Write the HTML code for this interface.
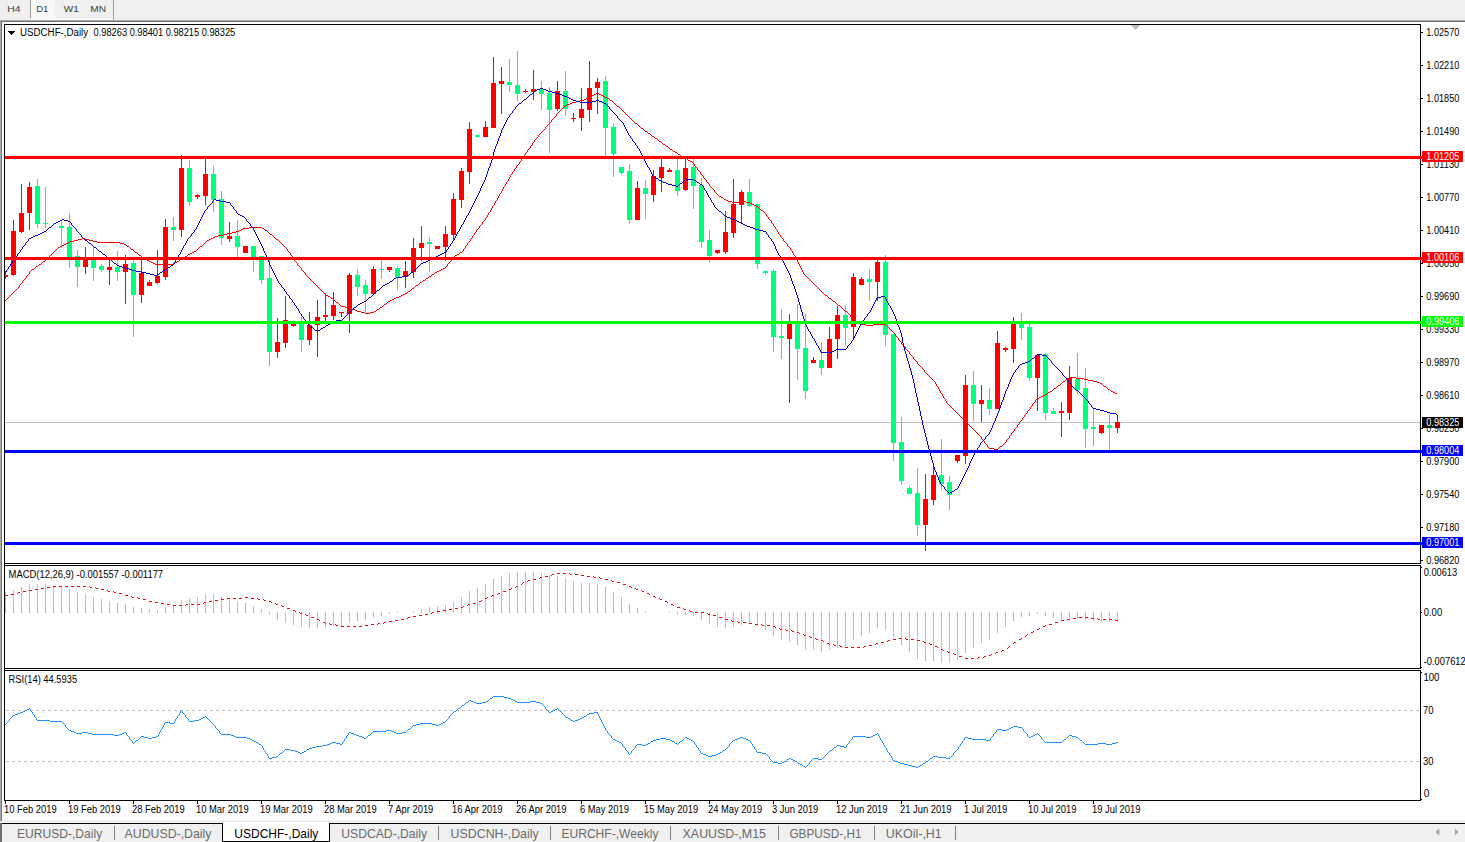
<!DOCTYPE html>
<html><head><meta charset="utf-8"><title>USDCHF Daily</title>
<style>
html,body{margin:0;padding:0;background:#fff;}
body{width:1465px;height:842px;overflow:hidden;font-family:"Liberation Sans",sans-serif;}
svg{display:block;font-family:"Liberation Sans",sans-serif;}
</style></head><body>
<svg width="1465" height="842" viewBox="0 0 1465 842" shape-rendering="crispEdges">
<rect x="0" y="0" width="1465" height="842" fill="#ffffff"/>
<rect x="0" y="0" width="1465" height="20" fill="#f0f0f0"/>
<rect x="0" y="20" width="1465" height="1" fill="#a8a8a8"/>
<rect x="0" y="21" width="1465" height="1" fill="#767676"/>
<rect x="31" y="18" width="82" height="2" fill="#fafafa"/>
<rect x="31" y="0" width="24" height="18" fill="#f8f8f8"/>
<rect x="30" y="0" width="1" height="18" fill="#a0a0a0"/>
<rect x="113" y="0" width="1" height="20" fill="#a0a0a0"/>
<text x="7.3" y="12" font-size="9.6" fill="#3c3c3c" textLength="13.2" lengthAdjust="spacingAndGlyphs">H4</text>
<text x="36.2" y="12" font-size="9.6" fill="#3c3c3c" textLength="12.2" lengthAdjust="spacingAndGlyphs">D1</text>
<text x="63.8" y="12" font-size="9.6" fill="#3c3c3c" textLength="15" lengthAdjust="spacingAndGlyphs">W1</text>
<text x="90.2" y="12" font-size="9.6" fill="#3c3c3c" textLength="15.8" lengthAdjust="spacingAndGlyphs">MN</text>
<rect x="0" y="21" width="1" height="801" fill="#a8a8a8"/>
<rect x="1" y="22" width="1" height="800" fill="#767676"/>
<rect x="4" y="24" width="1417" height="1" fill="#000"/>
<rect x="4" y="24" width="1" height="777" fill="#000"/>
<rect x="1420" y="24" width="1" height="777" fill="#000"/>
<rect x="4" y="563" width="1417" height="1" fill="#000"/>
<rect x="4" y="565" width="1417" height="1" fill="#000"/>
<rect x="4" y="668" width="1417" height="1" fill="#000"/>
<rect x="4" y="670" width="1417" height="1" fill="#000"/>
<rect x="4" y="800" width="1417" height="1" fill="#000"/>
<rect x="1131" y="25" width="9" height="1" fill="#c0c0c0"/>
<rect x="1132" y="26" width="7" height="1" fill="#c0c0c0"/>
<rect x="1133" y="27" width="5" height="1" fill="#c0c0c0"/>
<rect x="1134" y="28" width="3" height="1" fill="#c0c0c0"/>
<rect x="1135" y="29" width="1" height="1" fill="#c0c0c0"/>
<rect x="8" y="31" width="7" height="1" fill="#000"/>
<rect x="9" y="32" width="5" height="1" fill="#000"/>
<rect x="10" y="33" width="3" height="1" fill="#000"/>
<rect x="11" y="34" width="1" height="1" fill="#000"/>
<rect x="5" y="422" width="1415" height="1" fill="#c0c0c0"/>
<rect x="5" y="271" width="1" height="8" fill="#ff0000"/>
<rect x="5" y="275" width="3" height="2" fill="#ff0000"/>
<rect x="13" y="220" width="1" height="56" fill="#ff0000"/>
<rect x="11" y="231" width="5" height="44" fill="#ff0000"/>
<rect x="21" y="184" width="1" height="49" fill="#ff0000"/>
<rect x="19" y="213" width="5" height="19" fill="#ff0000"/>
<rect x="29" y="182" width="1" height="48" fill="#ff0000"/>
<rect x="27" y="187" width="5" height="26" fill="#ff0000"/>
<rect x="37" y="179" width="1" height="49" fill="#00ff7f"/>
<rect x="35" y="186" width="5" height="38" fill="#00ff7f"/>
<rect x="45" y="187" width="1" height="41" fill="#00ff7f"/>
<rect x="43" y="223" width="5" height="1" fill="#00ff7f"/>
<rect x="61" y="222" width="1" height="26" fill="#00ff7f"/>
<rect x="59" y="226" width="5" height="2" fill="#00ff7f"/>
<rect x="69" y="213" width="1" height="55" fill="#00ff7f"/>
<rect x="67" y="227" width="5" height="32" fill="#00ff7f"/>
<rect x="77" y="250" width="1" height="37" fill="#00ff7f"/>
<rect x="75" y="256" width="5" height="11" fill="#00ff7f"/>
<rect x="85" y="247" width="1" height="27" fill="#ff0000"/>
<rect x="83" y="257" width="5" height="10" fill="#ff0000"/>
<rect x="93" y="247" width="1" height="34" fill="#00ff7f"/>
<rect x="91" y="257" width="5" height="11" fill="#00ff7f"/>
<rect x="101" y="264" width="1" height="8" fill="#00ff7f"/>
<rect x="99" y="266" width="5" height="4" fill="#00ff7f"/>
<rect x="109" y="260" width="1" height="25" fill="#ff0000"/>
<rect x="107" y="267" width="5" height="3" fill="#ff0000"/>
<rect x="117" y="251" width="1" height="30" fill="#00ff7f"/>
<rect x="115" y="267" width="5" height="5" fill="#00ff7f"/>
<rect x="125" y="255" width="1" height="49" fill="#ff0000"/>
<rect x="123" y="264" width="5" height="8" fill="#ff0000"/>
<rect x="133" y="260" width="1" height="77" fill="#00ff7f"/>
<rect x="131" y="263" width="5" height="32" fill="#00ff7f"/>
<rect x="141" y="256" width="1" height="47" fill="#ff0000"/>
<rect x="139" y="273" width="5" height="22" fill="#ff0000"/>
<rect x="149" y="280" width="1" height="6" fill="#ff0000"/>
<rect x="147" y="282" width="5" height="4" fill="#ff0000"/>
<rect x="157" y="250" width="1" height="34" fill="#ff0000"/>
<rect x="155" y="276" width="5" height="7" fill="#ff0000"/>
<rect x="165" y="219" width="1" height="61" fill="#ff0000"/>
<rect x="163" y="227" width="5" height="50" fill="#ff0000"/>
<rect x="173" y="217" width="1" height="24" fill="#00ff7f"/>
<rect x="171" y="227" width="5" height="3" fill="#00ff7f"/>
<rect x="181" y="155" width="1" height="82" fill="#ff0000"/>
<rect x="179" y="168" width="5" height="62" fill="#ff0000"/>
<rect x="189" y="160" width="1" height="46" fill="#00ff7f"/>
<rect x="187" y="168" width="5" height="34" fill="#00ff7f"/>
<rect x="197" y="194" width="1" height="5" fill="#ff0000"/>
<rect x="195" y="195" width="5" height="2" fill="#ff0000"/>
<rect x="205" y="156" width="1" height="49" fill="#ff0000"/>
<rect x="203" y="174" width="5" height="22" fill="#ff0000"/>
<rect x="213" y="166" width="1" height="46" fill="#00ff7f"/>
<rect x="211" y="174" width="5" height="26" fill="#00ff7f"/>
<rect x="221" y="191" width="1" height="54" fill="#00ff7f"/>
<rect x="219" y="199" width="5" height="39" fill="#00ff7f"/>
<rect x="229" y="222" width="1" height="20" fill="#ff0000"/>
<rect x="227" y="236" width="5" height="3" fill="#ff0000"/>
<rect x="237" y="220" width="1" height="38" fill="#00ff7f"/>
<rect x="235" y="236" width="5" height="11" fill="#00ff7f"/>
<rect x="245" y="246" width="1" height="7" fill="#ff0000"/>
<rect x="243" y="246" width="5" height="7" fill="#ff0000"/>
<rect x="253" y="246" width="1" height="26" fill="#00ff7f"/>
<rect x="251" y="246" width="5" height="12" fill="#00ff7f"/>
<rect x="261" y="256" width="1" height="28" fill="#00ff7f"/>
<rect x="259" y="256" width="5" height="24" fill="#00ff7f"/>
<rect x="269" y="259" width="1" height="107" fill="#00ff7f"/>
<rect x="267" y="278" width="5" height="74" fill="#00ff7f"/>
<rect x="277" y="318" width="1" height="40" fill="#ff0000"/>
<rect x="275" y="342" width="5" height="10" fill="#ff0000"/>
<rect x="285" y="296" width="1" height="52" fill="#ff0000"/>
<rect x="283" y="320" width="5" height="23" fill="#ff0000"/>
<rect x="293" y="324" width="1" height="3" fill="#ff0000"/>
<rect x="291" y="324" width="5" height="2" fill="#ff0000"/>
<rect x="301" y="317" width="1" height="35" fill="#00ff7f"/>
<rect x="299" y="321" width="5" height="19" fill="#00ff7f"/>
<rect x="309" y="312" width="1" height="33" fill="#ff0000"/>
<rect x="307" y="325" width="5" height="15" fill="#ff0000"/>
<rect x="317" y="300" width="1" height="57" fill="#ff0000"/>
<rect x="315" y="317" width="5" height="8" fill="#ff0000"/>
<rect x="325" y="293" width="1" height="29" fill="#ff0000"/>
<rect x="323" y="315" width="5" height="2" fill="#ff0000"/>
<rect x="333" y="292" width="1" height="28" fill="#ff0000"/>
<rect x="331" y="305" width="5" height="11" fill="#ff0000"/>
<rect x="341" y="312" width="1" height="5" fill="#ff0000"/>
<rect x="339" y="312" width="5" height="1" fill="#ff0000"/>
<rect x="349" y="273" width="1" height="60" fill="#ff0000"/>
<rect x="347" y="275" width="5" height="39" fill="#ff0000"/>
<rect x="357" y="269" width="1" height="27" fill="#00ff7f"/>
<rect x="355" y="275" width="5" height="12" fill="#00ff7f"/>
<rect x="365" y="280" width="1" height="32" fill="#00ff7f"/>
<rect x="363" y="285" width="5" height="9" fill="#00ff7f"/>
<rect x="373" y="266" width="1" height="28" fill="#ff0000"/>
<rect x="371" y="269" width="5" height="25" fill="#ff0000"/>
<rect x="381" y="260" width="1" height="19" fill="#00ff7f"/>
<rect x="379" y="269" width="5" height="1" fill="#00ff7f"/>
<rect x="389" y="267" width="1" height="5" fill="#ff0000"/>
<rect x="387" y="267" width="5" height="3" fill="#ff0000"/>
<rect x="397" y="266" width="1" height="24" fill="#00ff7f"/>
<rect x="395" y="268" width="5" height="9" fill="#00ff7f"/>
<rect x="405" y="261" width="1" height="27" fill="#ff0000"/>
<rect x="403" y="271" width="5" height="6" fill="#ff0000"/>
<rect x="413" y="238" width="1" height="40" fill="#ff0000"/>
<rect x="411" y="248" width="5" height="24" fill="#ff0000"/>
<rect x="421" y="226" width="1" height="35" fill="#ff0000"/>
<rect x="419" y="243" width="5" height="5" fill="#ff0000"/>
<rect x="429" y="237" width="1" height="35" fill="#00ff7f"/>
<rect x="427" y="242" width="5" height="2" fill="#00ff7f"/>
<rect x="437" y="246" width="1" height="3" fill="#ff0000"/>
<rect x="435" y="246" width="5" height="3" fill="#ff0000"/>
<rect x="445" y="226" width="1" height="35" fill="#ff0000"/>
<rect x="443" y="234" width="5" height="13" fill="#ff0000"/>
<rect x="453" y="193" width="1" height="47" fill="#ff0000"/>
<rect x="451" y="199" width="5" height="36" fill="#ff0000"/>
<rect x="461" y="168" width="1" height="40" fill="#ff0000"/>
<rect x="459" y="171" width="5" height="29" fill="#ff0000"/>
<rect x="469" y="122" width="1" height="62" fill="#ff0000"/>
<rect x="467" y="129" width="5" height="43" fill="#ff0000"/>
<rect x="477" y="134" width="1" height="4" fill="#00ff7f"/>
<rect x="475" y="135" width="5" height="2" fill="#00ff7f"/>
<rect x="485" y="121" width="1" height="16" fill="#ff0000"/>
<rect x="483" y="127" width="5" height="10" fill="#ff0000"/>
<rect x="493" y="57" width="1" height="71" fill="#ff0000"/>
<rect x="491" y="83" width="5" height="45" fill="#ff0000"/>
<rect x="501" y="67" width="1" height="47" fill="#ff0000"/>
<rect x="499" y="81" width="5" height="3" fill="#ff0000"/>
<rect x="509" y="59" width="1" height="33" fill="#00ff7f"/>
<rect x="507" y="82" width="5" height="3" fill="#00ff7f"/>
<rect x="517" y="51" width="1" height="50" fill="#00ff7f"/>
<rect x="515" y="85" width="5" height="9" fill="#00ff7f"/>
<rect x="525" y="89" width="1" height="4" fill="#ff0000"/>
<rect x="523" y="91" width="5" height="1" fill="#ff0000"/>
<rect x="533" y="70" width="1" height="30" fill="#ff0000"/>
<rect x="531" y="89" width="5" height="3" fill="#ff0000"/>
<rect x="541" y="81" width="1" height="29" fill="#00ff7f"/>
<rect x="539" y="89" width="5" height="5" fill="#00ff7f"/>
<rect x="549" y="87" width="1" height="66" fill="#00ff7f"/>
<rect x="547" y="93" width="5" height="17" fill="#00ff7f"/>
<rect x="557" y="81" width="1" height="30" fill="#ff0000"/>
<rect x="555" y="91" width="5" height="18" fill="#ff0000"/>
<rect x="565" y="71" width="1" height="45" fill="#00ff7f"/>
<rect x="563" y="91" width="5" height="18" fill="#00ff7f"/>
<rect x="573" y="113" width="1" height="9" fill="#ff0000"/>
<rect x="571" y="118" width="5" height="1" fill="#ff0000"/>
<rect x="581" y="88" width="1" height="43" fill="#ff0000"/>
<rect x="579" y="109" width="5" height="9" fill="#ff0000"/>
<rect x="589" y="61" width="1" height="61" fill="#ff0000"/>
<rect x="587" y="88" width="5" height="22" fill="#ff0000"/>
<rect x="597" y="78" width="1" height="36" fill="#ff0000"/>
<rect x="595" y="82" width="5" height="6" fill="#ff0000"/>
<rect x="605" y="76" width="1" height="81" fill="#00ff7f"/>
<rect x="603" y="81" width="5" height="47" fill="#00ff7f"/>
<rect x="613" y="123" width="1" height="54" fill="#00ff7f"/>
<rect x="611" y="127" width="5" height="27" fill="#00ff7f"/>
<rect x="621" y="167" width="1" height="8" fill="#00ff7f"/>
<rect x="619" y="167" width="5" height="6" fill="#00ff7f"/>
<rect x="629" y="164" width="1" height="60" fill="#00ff7f"/>
<rect x="627" y="171" width="5" height="49" fill="#00ff7f"/>
<rect x="637" y="181" width="1" height="39" fill="#ff0000"/>
<rect x="635" y="188" width="5" height="32" fill="#ff0000"/>
<rect x="645" y="180" width="1" height="39" fill="#00ff7f"/>
<rect x="643" y="188" width="5" height="6" fill="#00ff7f"/>
<rect x="653" y="170" width="1" height="32" fill="#ff0000"/>
<rect x="651" y="176" width="5" height="19" fill="#ff0000"/>
<rect x="661" y="159" width="1" height="33" fill="#ff0000"/>
<rect x="659" y="167" width="5" height="11" fill="#ff0000"/>
<rect x="669" y="168" width="1" height="4" fill="#ff0000"/>
<rect x="667" y="170" width="5" height="2" fill="#ff0000"/>
<rect x="677" y="159" width="1" height="37" fill="#00ff7f"/>
<rect x="675" y="170" width="5" height="21" fill="#00ff7f"/>
<rect x="685" y="159" width="1" height="32" fill="#ff0000"/>
<rect x="683" y="168" width="5" height="22" fill="#ff0000"/>
<rect x="693" y="159" width="1" height="50" fill="#00ff7f"/>
<rect x="691" y="167" width="5" height="19" fill="#00ff7f"/>
<rect x="701" y="178" width="1" height="70" fill="#00ff7f"/>
<rect x="699" y="185" width="5" height="57" fill="#00ff7f"/>
<rect x="709" y="230" width="1" height="32" fill="#00ff7f"/>
<rect x="707" y="240" width="5" height="16" fill="#00ff7f"/>
<rect x="717" y="250" width="1" height="4" fill="#ff0000"/>
<rect x="715" y="250" width="5" height="3" fill="#ff0000"/>
<rect x="725" y="211" width="1" height="43" fill="#ff0000"/>
<rect x="723" y="232" width="5" height="20" fill="#ff0000"/>
<rect x="733" y="179" width="1" height="59" fill="#ff0000"/>
<rect x="731" y="204" width="5" height="29" fill="#ff0000"/>
<rect x="741" y="190" width="1" height="34" fill="#ff0000"/>
<rect x="739" y="192" width="5" height="13" fill="#ff0000"/>
<rect x="749" y="179" width="1" height="28" fill="#00ff7f"/>
<rect x="747" y="192" width="5" height="14" fill="#00ff7f"/>
<rect x="757" y="204" width="1" height="65" fill="#00ff7f"/>
<rect x="755" y="204" width="5" height="60" fill="#00ff7f"/>
<rect x="765" y="270" width="1" height="5" fill="#00ff7f"/>
<rect x="763" y="271" width="5" height="2" fill="#00ff7f"/>
<rect x="773" y="269" width="1" height="83" fill="#00ff7f"/>
<rect x="771" y="271" width="5" height="66" fill="#00ff7f"/>
<rect x="781" y="309" width="1" height="50" fill="#00ff7f"/>
<rect x="779" y="336" width="5" height="2" fill="#00ff7f"/>
<rect x="789" y="314" width="1" height="89" fill="#ff0000"/>
<rect x="787" y="322" width="5" height="17" fill="#ff0000"/>
<rect x="797" y="304" width="1" height="76" fill="#00ff7f"/>
<rect x="795" y="321" width="5" height="28" fill="#00ff7f"/>
<rect x="805" y="314" width="1" height="85" fill="#00ff7f"/>
<rect x="803" y="348" width="5" height="43" fill="#00ff7f"/>
<rect x="813" y="357" width="1" height="6" fill="#ff0000"/>
<rect x="811" y="360" width="5" height="3" fill="#ff0000"/>
<rect x="821" y="342" width="1" height="33" fill="#00ff7f"/>
<rect x="819" y="360" width="5" height="8" fill="#00ff7f"/>
<rect x="829" y="327" width="1" height="41" fill="#ff0000"/>
<rect x="827" y="339" width="5" height="29" fill="#ff0000"/>
<rect x="837" y="306" width="1" height="53" fill="#ff0000"/>
<rect x="835" y="315" width="5" height="24" fill="#ff0000"/>
<rect x="845" y="305" width="1" height="40" fill="#00ff7f"/>
<rect x="843" y="315" width="5" height="13" fill="#00ff7f"/>
<rect x="853" y="273" width="1" height="65" fill="#ff0000"/>
<rect x="851" y="277" width="5" height="50" fill="#ff0000"/>
<rect x="861" y="277" width="1" height="8" fill="#ff0000"/>
<rect x="859" y="279" width="5" height="6" fill="#ff0000"/>
<rect x="869" y="269" width="1" height="32" fill="#00ff7f"/>
<rect x="867" y="279" width="5" height="3" fill="#00ff7f"/>
<rect x="877" y="260" width="1" height="41" fill="#ff0000"/>
<rect x="875" y="262" width="5" height="20" fill="#ff0000"/>
<rect x="885" y="255" width="1" height="91" fill="#00ff7f"/>
<rect x="883" y="262" width="5" height="73" fill="#00ff7f"/>
<rect x="893" y="334" width="1" height="127" fill="#00ff7f"/>
<rect x="891" y="334" width="5" height="109" fill="#00ff7f"/>
<rect x="901" y="417" width="1" height="68" fill="#00ff7f"/>
<rect x="899" y="442" width="5" height="39" fill="#00ff7f"/>
<rect x="909" y="486" width="1" height="8" fill="#00ff7f"/>
<rect x="907" y="488" width="5" height="6" fill="#00ff7f"/>
<rect x="917" y="468" width="1" height="68" fill="#00ff7f"/>
<rect x="915" y="493" width="5" height="32" fill="#00ff7f"/>
<rect x="925" y="474" width="1" height="77" fill="#ff0000"/>
<rect x="923" y="499" width="5" height="26" fill="#ff0000"/>
<rect x="933" y="466" width="1" height="39" fill="#ff0000"/>
<rect x="931" y="475" width="5" height="25" fill="#ff0000"/>
<rect x="941" y="439" width="1" height="51" fill="#00ff7f"/>
<rect x="939" y="475" width="5" height="9" fill="#00ff7f"/>
<rect x="949" y="476" width="1" height="34" fill="#00ff7f"/>
<rect x="947" y="482" width="5" height="13" fill="#00ff7f"/>
<rect x="957" y="455" width="1" height="8" fill="#ff0000"/>
<rect x="955" y="455" width="5" height="6" fill="#ff0000"/>
<rect x="965" y="375" width="1" height="89" fill="#ff0000"/>
<rect x="963" y="385" width="5" height="71" fill="#ff0000"/>
<rect x="973" y="371" width="1" height="50" fill="#00ff7f"/>
<rect x="971" y="385" width="5" height="19" fill="#00ff7f"/>
<rect x="981" y="385" width="1" height="37" fill="#ff0000"/>
<rect x="979" y="400" width="5" height="4" fill="#ff0000"/>
<rect x="989" y="388" width="1" height="27" fill="#00ff7f"/>
<rect x="987" y="400" width="5" height="9" fill="#00ff7f"/>
<rect x="997" y="331" width="1" height="78" fill="#ff0000"/>
<rect x="995" y="343" width="5" height="66" fill="#ff0000"/>
<rect x="1005" y="347" width="1" height="5" fill="#ff0000"/>
<rect x="1003" y="348" width="5" height="2" fill="#ff0000"/>
<rect x="1013" y="317" width="1" height="46" fill="#ff0000"/>
<rect x="1011" y="324" width="5" height="25" fill="#ff0000"/>
<rect x="1021" y="313" width="1" height="27" fill="#00ff7f"/>
<rect x="1019" y="324" width="5" height="4" fill="#00ff7f"/>
<rect x="1029" y="324" width="1" height="57" fill="#00ff7f"/>
<rect x="1027" y="327" width="5" height="51" fill="#00ff7f"/>
<rect x="1037" y="354" width="1" height="57" fill="#ff0000"/>
<rect x="1035" y="355" width="5" height="23" fill="#ff0000"/>
<rect x="1045" y="353" width="1" height="67" fill="#00ff7f"/>
<rect x="1043" y="354" width="5" height="59" fill="#00ff7f"/>
<rect x="1053" y="408" width="1" height="6" fill="#00ff7f"/>
<rect x="1051" y="411" width="5" height="3" fill="#00ff7f"/>
<rect x="1061" y="402" width="1" height="35" fill="#ff0000"/>
<rect x="1059" y="411" width="5" height="2" fill="#ff0000"/>
<rect x="1069" y="366" width="1" height="54" fill="#ff0000"/>
<rect x="1067" y="378" width="5" height="35" fill="#ff0000"/>
<rect x="1077" y="353" width="1" height="41" fill="#00ff7f"/>
<rect x="1075" y="379" width="5" height="11" fill="#00ff7f"/>
<rect x="1085" y="368" width="1" height="80" fill="#00ff7f"/>
<rect x="1083" y="388" width="5" height="41" fill="#00ff7f"/>
<rect x="1093" y="408" width="1" height="38" fill="#00ff7f"/>
<rect x="1091" y="427" width="5" height="2" fill="#00ff7f"/>
<rect x="1101" y="425" width="1" height="9" fill="#ff0000"/>
<rect x="1099" y="425" width="5" height="8" fill="#ff0000"/>
<rect x="1109" y="415" width="1" height="35" fill="#00ff7f"/>
<rect x="1107" y="425" width="5" height="3" fill="#00ff7f"/>
<rect x="1117" y="415" width="1" height="18" fill="#ff0000"/>
<rect x="1115" y="422" width="5" height="6" fill="#ff0000"/>
<path d="M5.5 300v1M6.5 299v1M7.5 298v1M8.5 297v1M9.5 296v1M10.5 295v1M11.5 294v1M12.5 293v1M13.5 292v1M14.5 291v1M15.5 290v1M16.5 289v1M17.5 288v1M18.5 287v1M19.5 285v2M20.5 284v1M21.5 283v1M22.5 281v2M23.5 280v1M24.5 279v1M25.5 278v1M26.5 276v2M27.5 275v1M28.5 274v1M29.5 272v2M30.5 271v1M31.5 270v1M32.5 269v1M33.5 269v1M34.5 268v1M35.5 267v1M36.5 266v1M37.5 266v1M38.5 265v1M39.5 264v1M40.5 264v1M41.5 263v1M42.5 262v1M43.5 261v1M44.5 261v1M45.5 260v1M46.5 259v1M47.5 258v1M48.5 257v1M49.5 256v1M50.5 255v1M51.5 254v1M52.5 253v1M53.5 252v1M54.5 251v1M55.5 250v1M56.5 249v1M57.5 248v1M58.5 247v1M59.5 247v1M60.5 246v1M61.5 246v1M62.5 245v1M63.5 245v1M64.5 244v1M65.5 244v1M66.5 243v1M67.5 243v1M68.5 242v1M69.5 242v1M70.5 241v1M71.5 241v1M72.5 241v1M73.5 241v1M74.5 240v1M75.5 240v1M76.5 240v1M77.5 240v1M78.5 239v1M79.5 239v1M80.5 239v1M81.5 239v1M82.5 238v1M83.5 238v1M84.5 238v1M85.5 239v1M86.5 239v1M87.5 239v1M88.5 239v1M89.5 240v1M90.5 240v1M91.5 240v1M92.5 240v1M93.5 241v1M94.5 241v1M95.5 241v1M96.5 241v1M97.5 242v1M98.5 242v1M99.5 242v1M100.5 242v1M101.5 242v1M102.5 242v1M103.5 242v1M104.5 242v1M105.5 242v1M106.5 242v1M107.5 242v1M108.5 242v1M109.5 242v1M110.5 242v1M111.5 242v1M112.5 242v1M113.5 242v1M114.5 242v1M115.5 242v1M116.5 242v1M117.5 242v1M118.5 242v1M119.5 242v1M120.5 243v1M121.5 243v1M122.5 243v1M123.5 243v1M124.5 244v1M125.5 244v1M126.5 245v1M127.5 246v1M128.5 246v1M129.5 247v1M130.5 248v1M131.5 249v1M132.5 249v1M133.5 250v1M134.5 251v1M135.5 252v1M136.5 252v1M137.5 253v1M138.5 254v1M139.5 255v1M140.5 255v1M141.5 256v1M142.5 257v1M143.5 258v1M144.5 258v1M145.5 259v1M146.5 259v1M147.5 260v1M148.5 260v1M149.5 261v1M150.5 261v1M151.5 262v1M152.5 262v1M153.5 263v1M154.5 263v1M155.5 264v1M156.5 264v1M157.5 264v1M158.5 264v1M159.5 264v1M160.5 264v1M161.5 264v1M162.5 264v1M163.5 264v1M164.5 264v1M165.5 264v1M166.5 264v1M167.5 264v1M168.5 264v1M169.5 264v1M170.5 264v1M171.5 264v1M172.5 264v1M173.5 263v1M174.5 263v1M175.5 262v1M176.5 262v1M177.5 261v1M178.5 261v1M179.5 260v1M180.5 259v1M181.5 259v1M182.5 258v1M183.5 258v1M184.5 257v1M185.5 256v1M186.5 256v1M187.5 255v1M188.5 254v1M189.5 254v1M190.5 253v1M191.5 253v1M192.5 252v1M193.5 252v1M194.5 251v1M195.5 251v1M196.5 250v1M197.5 249v1M198.5 248v1M199.5 247v1M200.5 246v1M201.5 246v1M202.5 245v1M203.5 244v1M204.5 243v1M205.5 242v1M206.5 241v1M207.5 240v1M208.5 240v1M209.5 239v1M210.5 239v1M211.5 238v1M212.5 238v1M213.5 237v1M214.5 237v1M215.5 236v1M216.5 236v1M217.5 236v1M218.5 235v1M219.5 235v1M220.5 235v1M221.5 235v1M222.5 235v1M223.5 234v1M224.5 234v1M225.5 234v1M226.5 234v1M227.5 233v1M228.5 233v1M229.5 233v1M230.5 233v1M231.5 233v1M232.5 232v1M233.5 232v1M234.5 232v1M235.5 232v1M236.5 231v1M237.5 231v1M238.5 231v1M239.5 230v1M240.5 230v1M241.5 229v1M242.5 229v1M243.5 228v1M244.5 228v1M245.5 228v1M246.5 228v1M247.5 228v1M248.5 228v1M249.5 227v1M250.5 227v1M251.5 227v1M252.5 227v1M253.5 227v1M254.5 227v1M255.5 227v1M256.5 227v1M257.5 227v1M258.5 227v1M259.5 227v1M260.5 227v1M261.5 227v1M262.5 228v1M263.5 228v1M264.5 229v1M265.5 230v1M266.5 230v1M267.5 231v1M268.5 232v1M269.5 233v1M270.5 234v1M271.5 234v1M272.5 235v1M273.5 236v1M274.5 237v1M275.5 238v1M276.5 239v1M277.5 239v1M278.5 240v1M279.5 241v1M280.5 242v1M281.5 243v1M282.5 244v1M283.5 245v1M284.5 246v1M285.5 247v1M286.5 248v1M287.5 249v2M288.5 251v1M289.5 252v1M290.5 253v2M291.5 255v1M292.5 256v1M293.5 257v2M294.5 259v2M295.5 261v1M296.5 262v1M297.5 263v2M298.5 265v1M299.5 266v1M300.5 267v1M301.5 268v2M302.5 270v1M303.5 271v1M304.5 272v1M305.5 273v2M306.5 275v1M307.5 276v1M308.5 277v1M309.5 278v1M310.5 279v1M311.5 280v1M312.5 281v1M313.5 282v1M314.5 283v1M315.5 284v1M316.5 285v1M317.5 286v1M318.5 287v1M319.5 288v1M320.5 289v1M321.5 290v1M322.5 291v1M323.5 292v1M324.5 293v1M325.5 294v1M326.5 295v1M327.5 295v1M328.5 296v1M329.5 296v1M330.5 297v1M331.5 298v1M332.5 298v1M333.5 299v1M334.5 300v1M335.5 301v1M336.5 302v1M337.5 302v1M338.5 303v1M339.5 304v1M340.5 305v1M341.5 306v1M342.5 306v1M343.5 306v1M344.5 306v1M345.5 307v1M346.5 307v1M347.5 307v1M348.5 307v1M349.5 307v1M350.5 308v1M351.5 308v1M352.5 309v1M353.5 309v1M354.5 309v1M355.5 310v1M356.5 310v1M357.5 311v1M358.5 311v1M359.5 311v1M360.5 311v1M361.5 312v1M362.5 312v1M363.5 312v1M364.5 312v1M365.5 313v1M366.5 313v1M367.5 313v1M368.5 313v1M369.5 313v1M370.5 312v1M371.5 312v1M372.5 312v1M373.5 312v1M374.5 311v1M375.5 311v1M376.5 310v1M377.5 309v1M378.5 309v1M379.5 308v1M380.5 307v1M381.5 307v1M382.5 306v1M383.5 305v1M384.5 304v1M385.5 304v1M386.5 303v1M387.5 302v1M388.5 301v1M389.5 301v1M390.5 300v1M391.5 300v1M392.5 299v1M393.5 299v1M394.5 298v1M395.5 298v1M396.5 297v1M397.5 297v1M398.5 297v1M399.5 296v1M400.5 296v1M401.5 295v1M402.5 295v1M403.5 294v1M404.5 294v1M405.5 293v1M406.5 293v1M407.5 292v1M408.5 291v1M409.5 291v1M410.5 290v1M411.5 289v1M412.5 288v1M413.5 288v1M414.5 287v1M415.5 286v1M416.5 285v1M417.5 285v1M418.5 284v1M419.5 283v1M420.5 282v1M421.5 282v1M422.5 281v1M423.5 280v1M424.5 280v1M425.5 279v1M426.5 278v1M427.5 278v1M428.5 277v1M429.5 276v1M430.5 276v1M431.5 275v1M432.5 274v1M433.5 274v1M434.5 273v1M435.5 272v1M436.5 272v1M437.5 271v1M438.5 271v1M439.5 270v1M440.5 270v1M441.5 269v1M442.5 269v1M443.5 268v1M444.5 268v1M445.5 267v1M446.5 266v1M447.5 264v2M448.5 263v1M449.5 262v1M450.5 261v1M451.5 260v1M452.5 258v2M453.5 257v1M454.5 256v1M455.5 255v1M456.5 255v1M457.5 254v1M458.5 254v1M459.5 253v1M460.5 252v1M461.5 252v1M462.5 251v1M463.5 249v2M464.5 248v1M465.5 246v2M466.5 245v1M467.5 243v2M468.5 242v1M469.5 241v1M470.5 239v2M471.5 238v1M472.5 236v2M473.5 235v1M474.5 233v2M475.5 232v1M476.5 230v2M477.5 229v1M478.5 228v1M479.5 226v2M480.5 225v1M481.5 224v1M482.5 222v2M483.5 221v1M484.5 220v1M485.5 218v2M486.5 217v1M487.5 215v2M488.5 213v2M489.5 212v1M490.5 210v2M491.5 208v2M492.5 206v2M493.5 205v1M494.5 203v2M495.5 201v2M496.5 200v1M497.5 198v2M498.5 196v2M499.5 194v2M500.5 193v1M501.5 191v2M502.5 189v2M503.5 187v2M504.5 186v1M505.5 184v2M506.5 182v2M507.5 181v1M508.5 179v2M509.5 177v2M510.5 175v2M511.5 174v1M512.5 172v2M513.5 171v1M514.5 169v2M515.5 168v1M516.5 166v2M517.5 165v1M518.5 164v1M519.5 162v2M520.5 161v1M521.5 159v2M522.5 158v1M523.5 156v2M524.5 155v1M525.5 153v2M526.5 152v1M527.5 150v2M528.5 149v1M529.5 148v1M530.5 146v2M531.5 145v1M532.5 143v2M533.5 142v1M534.5 140v2M535.5 139v1M536.5 138v1M537.5 137v1M538.5 135v2M539.5 134v1M540.5 133v1M541.5 132v1M542.5 131v1M543.5 130v1M544.5 129v1M545.5 127v2M546.5 126v1M547.5 125v1M548.5 124v1M549.5 123v1M550.5 122v1M551.5 120v2M552.5 119v1M553.5 118v1M554.5 117v1M555.5 116v1M556.5 114v2M557.5 113v1M558.5 112v1M559.5 111v1M560.5 110v1M561.5 109v1M562.5 108v1M563.5 107v1M564.5 106v1M565.5 105v1M566.5 105v1M567.5 104v1M568.5 104v1M569.5 104v1M570.5 103v1M571.5 103v1M572.5 102v1M573.5 102v1M574.5 102v1M575.5 102v1M576.5 101v1M577.5 101v1M578.5 101v1M579.5 101v1M580.5 100v1M581.5 100v1M582.5 100v1M583.5 100v1M584.5 99v1M585.5 99v1M586.5 98v1M587.5 98v1M588.5 97v1M589.5 97v1M590.5 96v1M591.5 96v1M592.5 95v1M593.5 95v1M594.5 94v1M595.5 94v1M596.5 93v1M597.5 93v1M598.5 93v1M599.5 94v1M600.5 94v1M601.5 95v1M602.5 95v1M603.5 96v1M604.5 96v1M605.5 97v1M606.5 97v1M607.5 98v1M608.5 98v1M609.5 99v1M610.5 100v1M611.5 100v1M612.5 101v1M613.5 102v1M614.5 103v1M615.5 104v1M616.5 105v1M617.5 106v1M618.5 106v1M619.5 107v1M620.5 108v1M621.5 109v1M622.5 110v1M623.5 111v1M624.5 112v1M625.5 113v1M626.5 114v1M627.5 115v1M628.5 116v1M629.5 117v1M630.5 118v1M631.5 119v1M632.5 120v1M633.5 121v1M634.5 122v1M635.5 123v1M636.5 123v1M637.5 124v1M638.5 125v1M639.5 126v1M640.5 127v1M641.5 128v1M642.5 128v1M643.5 129v1M644.5 130v1M645.5 131v1M646.5 131v1M647.5 132v1M648.5 133v1M649.5 133v1M650.5 134v1M651.5 135v1M652.5 136v1M653.5 136v1M654.5 137v1M655.5 138v1M656.5 138v1M657.5 139v1M658.5 140v1M659.5 141v1M660.5 141v1M661.5 142v1M662.5 143v1M663.5 144v1M664.5 144v1M665.5 145v1M666.5 146v1M667.5 146v1M668.5 147v1M669.5 148v1M670.5 149v1M671.5 149v1M672.5 150v1M673.5 151v1M674.5 151v1M675.5 152v1M676.5 152v1M677.5 153v1M678.5 154v1M679.5 154v1M680.5 155v1M681.5 156v1M682.5 156v1M683.5 157v1M684.5 157v1M685.5 158v1M686.5 158v1M687.5 159v1M688.5 160v1M689.5 160v1M690.5 161v1M691.5 161v1M692.5 162v1M693.5 163v1M694.5 164v2M695.5 166v1M696.5 167v1M697.5 168v2M698.5 170v1M699.5 171v1M700.5 172v2M701.5 174v1M702.5 175v1M703.5 176v2M704.5 178v1M705.5 179v1M706.5 180v2M707.5 182v1M708.5 183v1M709.5 184v2M710.5 186v1M711.5 187v1M712.5 188v1M713.5 189v1M714.5 190v2M715.5 192v1M716.5 193v1M717.5 194v1M718.5 195v1M719.5 196v1M720.5 196v1M721.5 197v1M722.5 197v1M723.5 198v1M724.5 199v1M725.5 199v1M726.5 200v1M727.5 200v1M728.5 201v1M729.5 201v1M730.5 201v1M731.5 201v1M732.5 202v1M733.5 202v1M734.5 202v1M735.5 202v1M736.5 202v1M737.5 202v1M738.5 202v1M739.5 201v1M740.5 201v1M741.5 201v1M742.5 201v1M743.5 201v1M744.5 201v1M745.5 201v1M746.5 202v1M747.5 202v1M748.5 202v1M749.5 202v1M750.5 203v1M751.5 203v1M752.5 204v1M753.5 204v1M754.5 205v1M755.5 205v1M756.5 206v1M757.5 206v1M758.5 207v1M759.5 208v1M760.5 209v1M761.5 210v1M762.5 210v1M763.5 211v1M764.5 212v1M765.5 213v1M766.5 214v2M767.5 216v1M768.5 217v2M769.5 219v1M770.5 220v1M771.5 221v2M772.5 223v1M773.5 224v2M774.5 226v1M775.5 227v2M776.5 229v1M777.5 230v2M778.5 232v2M779.5 234v1M780.5 235v2M781.5 237v1M782.5 238v1M783.5 239v2M784.5 241v1M785.5 242v1M786.5 243v1M787.5 244v2M788.5 246v1M789.5 247v1M790.5 248v2M791.5 250v1M792.5 251v2M793.5 253v2M794.5 255v1M795.5 256v2M796.5 258v2M797.5 260v2M798.5 262v2M799.5 264v2M800.5 266v2M801.5 268v2M802.5 270v2M803.5 272v2M804.5 274v1M805.5 275v1M806.5 276v1M807.5 277v1M808.5 278v1M809.5 279v1M810.5 280v1M811.5 281v1M812.5 282v1M813.5 283v1M814.5 284v1M815.5 285v1M816.5 286v1M817.5 287v1M818.5 288v1M819.5 289v1M820.5 290v1M821.5 291v1M822.5 292v1M823.5 293v1M824.5 294v1M825.5 295v1M826.5 295v1M827.5 296v1M828.5 297v1M829.5 298v1M830.5 298v1M831.5 299v1M832.5 300v1M833.5 301v1M834.5 301v1M835.5 302v1M836.5 303v1M837.5 304v1M838.5 305v1M839.5 305v1M840.5 306v1M841.5 307v1M842.5 308v1M843.5 309v1M844.5 310v1M845.5 311v1M846.5 311v1M847.5 312v1M848.5 313v1M849.5 314v1M850.5 315v2M851.5 317v1M852.5 318v1M853.5 319v2M854.5 321v1M855.5 321v1M856.5 322v1M857.5 322v1M858.5 323v1M859.5 323v1M860.5 324v1M861.5 324v1M862.5 324v1M863.5 324v1M864.5 324v1M865.5 324v1M866.5 325v1M867.5 325v1M868.5 325v1M869.5 325v1M870.5 325v1M871.5 325v1M872.5 325v1M873.5 324v1M874.5 324v1M875.5 324v1M876.5 324v1M877.5 324v1M878.5 324v1M879.5 324v1M880.5 324v1M881.5 324v1M882.5 324v1M883.5 324v1M884.5 324v1M885.5 324v1M886.5 325v1M887.5 326v1M888.5 327v1M889.5 328v1M890.5 329v1M891.5 330v1M892.5 331v1M893.5 332v1M894.5 333v1M895.5 334v2M896.5 336v1M897.5 337v1M898.5 338v2M899.5 340v1M900.5 341v1M901.5 342v2M902.5 344v1M903.5 345v1M904.5 346v1M905.5 347v2M906.5 349v1M907.5 350v1M908.5 351v1M909.5 352v2M910.5 354v1M911.5 355v1M912.5 356v1M913.5 357v2M914.5 359v1M915.5 360v1M916.5 361v1M917.5 362v2M918.5 364v1M919.5 365v1M920.5 366v1M921.5 367v1M922.5 368v1M923.5 369v1M924.5 370v2M925.5 372v1M926.5 373v1M927.5 374v1M928.5 375v1M929.5 376v1M930.5 377v1M931.5 378v1M932.5 379v1M933.5 380v1M934.5 381v1M935.5 382v2M936.5 384v2M937.5 386v1M938.5 387v2M939.5 389v2M940.5 391v2M941.5 393v1M942.5 394v2M943.5 396v2M944.5 398v1M945.5 399v2M946.5 401v2M947.5 403v1M948.5 404v1M949.5 405v1M950.5 406v1M951.5 407v1M952.5 408v1M953.5 409v1M954.5 410v1M955.5 411v1M956.5 412v1M957.5 413v1M958.5 414v1M959.5 415v1M960.5 416v1M961.5 417v1M962.5 418v1M963.5 419v1M964.5 420v1M965.5 421v1M966.5 422v1M967.5 423v1M968.5 424v1M969.5 425v1M970.5 426v1M971.5 427v1M972.5 428v1M973.5 429v1M974.5 430v1M975.5 431v1M976.5 432v1M977.5 433v1M978.5 434v1M979.5 435v1M980.5 436v1M981.5 437v2M982.5 439v1M983.5 440v1M984.5 441v2M985.5 443v1M986.5 444v1M987.5 445v2M988.5 447v1M989.5 448v1M990.5 448v1M991.5 448v1M992.5 448v1M993.5 448v1M994.5 449v1M995.5 449v1M996.5 449v1M997.5 449v1M998.5 448v1M999.5 447v1M1000.5 446v1M1001.5 446v1M1002.5 445v1M1003.5 444v1M1004.5 443v1M1005.5 442v1M1006.5 440v2M1007.5 439v1M1008.5 438v1M1009.5 436v2M1010.5 435v1M1011.5 433v2M1012.5 432v1M1013.5 431v1M1014.5 429v2M1015.5 428v1M1016.5 427v1M1017.5 425v2M1018.5 424v1M1019.5 422v2M1020.5 421v1M1021.5 420v1M1022.5 418v2M1023.5 417v1M1024.5 415v2M1025.5 414v1M1026.5 413v1M1027.5 411v2M1028.5 410v1M1029.5 409v1M1030.5 407v2M1031.5 406v1M1032.5 404v2M1033.5 403v1M1034.5 402v1M1035.5 400v2M1036.5 399v1M1037.5 398v1M1038.5 398v1M1039.5 397v1M1040.5 397v1M1041.5 396v1M1042.5 396v1M1043.5 395v1M1044.5 395v1M1045.5 394v1M1046.5 394v1M1047.5 393v1M1048.5 392v1M1049.5 392v1M1050.5 391v1M1051.5 391v1M1052.5 390v1M1053.5 389v1M1054.5 388v1M1055.5 388v1M1056.5 387v1M1057.5 386v1M1058.5 385v1M1059.5 385v1M1060.5 384v1M1061.5 383v1M1062.5 382v1M1063.5 381v1M1064.5 381v1M1065.5 380v1M1066.5 379v1M1067.5 378v1M1068.5 378v1M1069.5 377v1M1070.5 377v1M1071.5 377v1M1072.5 377v1M1073.5 377v1M1074.5 377v1M1075.5 377v1M1076.5 378v1M1077.5 378v1M1078.5 378v1M1079.5 378v1M1080.5 378v1M1081.5 378v1M1082.5 378v1M1083.5 378v1M1084.5 379v1M1085.5 379v1M1086.5 379v1M1087.5 379v1M1088.5 380v1M1089.5 380v1M1090.5 380v1M1091.5 380v1M1092.5 380v1M1093.5 381v1M1094.5 381v1M1095.5 381v1M1096.5 381v1M1097.5 382v1M1098.5 382v1M1099.5 382v1M1100.5 383v1M1101.5 383v1M1102.5 384v1M1103.5 385v1M1104.5 386v1M1105.5 386v1M1106.5 387v1M1107.5 388v1M1108.5 389v1M1109.5 389v1M1110.5 390v1M1111.5 391v1M1112.5 391v1M1113.5 392v1M1114.5 392v1M1115.5 393v1M1116.5 393v1" stroke="#ff0000" stroke-width="1" fill="none"/>
<path d="M5.5 272v1M6.5 270v2M7.5 269v1M8.5 267v2M9.5 266v1M10.5 264v2M11.5 263v1M12.5 261v2M13.5 260v1M14.5 258v2M15.5 257v1M16.5 256v1M17.5 254v2M18.5 253v1M19.5 252v1M20.5 250v2M21.5 249v1M22.5 247v2M23.5 246v1M24.5 245v1M25.5 243v2M26.5 242v1M27.5 241v1M28.5 239v2M29.5 238v1M30.5 238v1M31.5 237v1M32.5 237v1M33.5 236v1M34.5 236v1M35.5 235v1M36.5 235v1M37.5 235v1M38.5 234v1M39.5 234v1M40.5 233v1M41.5 233v1M42.5 232v1M43.5 232v1M44.5 231v1M45.5 231v1M46.5 230v1M47.5 229v1M48.5 228v1M49.5 227v1M50.5 227v1M51.5 226v1M52.5 225v1M53.5 224v1M54.5 223v1M55.5 223v1M56.5 222v1M57.5 222v1M58.5 221v1M59.5 221v1M60.5 220v1M61.5 220v1M62.5 219v1M63.5 219v1M64.5 220v1M65.5 220v1M66.5 220v1M67.5 220v1M68.5 221v1M69.5 221v1M70.5 222v1M71.5 223v2M72.5 225v1M73.5 226v1M74.5 227v1M75.5 228v1M76.5 229v2M77.5 231v1M78.5 232v1M79.5 233v1M80.5 234v1M81.5 235v2M82.5 237v1M83.5 238v1M84.5 239v1M85.5 240v1M86.5 240v1M87.5 241v1M88.5 242v1M89.5 243v1M90.5 243v1M91.5 244v1M92.5 245v1M93.5 246v1M94.5 247v1M95.5 247v1M96.5 248v1M97.5 249v1M98.5 250v1M99.5 251v1M100.5 251v1M101.5 252v1M102.5 253v1M103.5 254v1M104.5 254v1M105.5 255v1M106.5 256v1M107.5 257v1M108.5 258v1M109.5 258v1M110.5 259v1M111.5 260v1M112.5 261v1M113.5 262v1M114.5 263v1M115.5 263v1M116.5 264v1M117.5 265v1M118.5 265v1M119.5 266v1M120.5 266v1M121.5 266v1M122.5 267v1M123.5 267v1M124.5 267v1M125.5 267v1M126.5 268v1M127.5 268v1M128.5 268v1M129.5 269v1M130.5 269v1M131.5 269v1M132.5 270v1M133.5 270v1M134.5 270v1M135.5 270v1M136.5 271v1M137.5 271v1M138.5 271v1M139.5 271v1M140.5 271v1M141.5 272v1M142.5 272v1M143.5 272v1M144.5 272v1M145.5 272v1M146.5 273v1M147.5 273v1M148.5 273v1M149.5 273v1M150.5 274v1M151.5 274v1M152.5 274v1M153.5 274v1M154.5 275v1M155.5 275v1M156.5 275v1M157.5 274v1M158.5 274v1M159.5 273v1M160.5 272v1M161.5 272v1M162.5 271v1M163.5 270v1M164.5 270v1M165.5 269v1M166.5 269v1M167.5 268v1M168.5 267v1M169.5 267v1M170.5 266v1M171.5 265v1M172.5 265v1M173.5 264v1M174.5 262v2M175.5 260v2M176.5 259v1M177.5 257v2M178.5 255v2M179.5 254v1M180.5 252v2M181.5 250v2M182.5 248v2M183.5 246v2M184.5 245v1M185.5 243v2M186.5 241v2M187.5 239v2M188.5 238v1M189.5 237v1M190.5 236v1M191.5 234v2M192.5 233v1M193.5 232v1M194.5 230v2M195.5 229v1M196.5 227v2M197.5 225v2M198.5 223v2M199.5 221v2M200.5 219v2M201.5 217v2M202.5 215v2M203.5 213v2M204.5 211v2M205.5 210v1M206.5 209v1M207.5 207v2M208.5 206v1M209.5 205v1M210.5 204v1M211.5 203v1M212.5 201v2M213.5 200v1M214.5 199v1M215.5 199v1M216.5 200v1M217.5 200v1M218.5 200v1M219.5 200v1M220.5 201v1M221.5 201v1M222.5 201v1M223.5 201v1M224.5 201v1M225.5 201v1M226.5 202v1M227.5 202v1M228.5 202v1M229.5 202v1M230.5 203v2M231.5 205v1M232.5 206v1M233.5 207v2M234.5 209v1M235.5 210v1M236.5 211v2M237.5 213v1M238.5 214v1M239.5 214v1M240.5 215v1M241.5 215v1M242.5 216v1M243.5 216v1M244.5 217v1M245.5 218v1M246.5 219v2M247.5 221v1M248.5 222v1M249.5 223v1M250.5 224v2M251.5 226v1M252.5 227v1M253.5 228v2M254.5 230v2M255.5 232v2M256.5 234v2M257.5 236v2M258.5 238v2M259.5 240v2M260.5 242v2M261.5 244v2M262.5 246v2M263.5 248v3M264.5 251v2M265.5 253v2M266.5 255v3M267.5 258v2M268.5 260v2M269.5 262v3M270.5 265v2M271.5 267v2M272.5 269v2M273.5 271v2M274.5 273v2M275.5 275v2M276.5 277v2M277.5 279v2M278.5 281v2M279.5 283v1M280.5 284v1M281.5 285v2M282.5 287v1M283.5 288v1M284.5 289v2M285.5 291v1M286.5 292v2M287.5 294v1M288.5 295v1M289.5 296v2M290.5 298v1M291.5 299v1M292.5 300v2M293.5 302v1M294.5 303v2M295.5 305v1M296.5 306v2M297.5 308v1M298.5 309v2M299.5 311v2M300.5 313v1M301.5 314v2M302.5 316v1M303.5 317v2M304.5 319v1M305.5 320v1M306.5 321v1M307.5 322v2M308.5 324v1M309.5 325v1M310.5 326v1M311.5 327v1M312.5 327v1M313.5 328v1M314.5 329v1M315.5 330v1M316.5 330v1M317.5 331v1M318.5 330v1M319.5 330v1M320.5 329v1M321.5 328v1M322.5 328v1M323.5 327v1M324.5 327v1M325.5 326v1M326.5 325v1M327.5 325v1M328.5 324v1M329.5 324v1M330.5 323v1M331.5 323v1M332.5 322v1M333.5 322v1M334.5 321v1M335.5 321v1M336.5 320v1M337.5 320v1M338.5 320v1M339.5 320v1M340.5 320v1M341.5 320v1M342.5 319v1M343.5 318v1M344.5 317v1M345.5 316v1M346.5 315v1M347.5 314v1M348.5 313v1M349.5 312v1M350.5 311v1M351.5 310v1M352.5 309v1M353.5 308v1M354.5 307v1M355.5 307v1M356.5 306v1M357.5 305v1M358.5 304v1M359.5 304v1M360.5 303v1M361.5 303v1M362.5 302v1M363.5 302v1M364.5 301v1M365.5 301v1M366.5 300v1M367.5 299v1M368.5 298v1M369.5 297v1M370.5 297v1M371.5 296v1M372.5 295v1M373.5 294v1M374.5 293v1M375.5 292v1M376.5 291v1M377.5 290v1M378.5 290v1M379.5 289v1M380.5 288v1M381.5 287v1M382.5 286v1M383.5 285v1M384.5 285v1M385.5 284v1M386.5 284v1M387.5 283v1M388.5 283v1M389.5 282v1M390.5 281v1M391.5 281v1M392.5 280v1M393.5 279v1M394.5 278v1M395.5 278v1M396.5 277v1M397.5 277v1M398.5 277v1M399.5 277v1M400.5 277v1M401.5 277v1M402.5 276v1M403.5 276v1M404.5 276v1M405.5 276v1M406.5 276v1M407.5 275v1M408.5 275v1M409.5 274v1M410.5 273v1M411.5 272v1M412.5 272v1M413.5 271v1M414.5 270v1M415.5 269v1M416.5 268v1M417.5 267v1M418.5 266v1M419.5 265v1M420.5 264v1M421.5 263v1M422.5 263v1M423.5 262v1M424.5 262v1M425.5 262v1M426.5 261v1M427.5 261v1M428.5 260v1M429.5 260v1M430.5 259v1M431.5 259v1M432.5 258v1M433.5 258v1M434.5 257v1M435.5 257v1M436.5 256v1M437.5 256v1M438.5 255v1M439.5 255v1M440.5 254v1M441.5 254v1M442.5 253v1M443.5 253v1M444.5 252v1M445.5 252v1M446.5 250v2M447.5 249v1M448.5 247v2M449.5 246v1M450.5 244v2M451.5 243v1M452.5 241v2M453.5 240v1M454.5 238v2M455.5 236v2M456.5 234v2M457.5 232v2M458.5 231v1M459.5 229v2M460.5 227v2M461.5 225v2M462.5 224v1M463.5 222v2M464.5 220v2M465.5 218v2M466.5 216v2M467.5 215v1M468.5 213v2M469.5 211v2M470.5 209v2M471.5 207v2M472.5 205v2M473.5 203v2M474.5 201v2M475.5 199v2M476.5 197v2M477.5 195v2M478.5 193v2M479.5 191v2M480.5 188v3M481.5 186v2M482.5 184v2M483.5 182v2M484.5 180v2M485.5 177v3M486.5 174v3M487.5 171v3M488.5 168v3M489.5 166v2M490.5 163v3M491.5 160v3M492.5 156v4M493.5 152v4M494.5 149v3M495.5 146v3M496.5 144v2M497.5 141v3M498.5 138v3M499.5 136v2M500.5 133v3M501.5 130v3M502.5 128v2M503.5 126v2M504.5 124v2M505.5 122v2M506.5 120v2M507.5 118v2M508.5 117v1M509.5 115v2M510.5 114v1M511.5 113v1M512.5 111v2M513.5 110v1M514.5 109v1M515.5 107v2M516.5 106v1M517.5 105v1M518.5 104v1M519.5 103v1M520.5 103v1M521.5 102v1M522.5 101v1M523.5 100v1M524.5 99v1M525.5 99v1M526.5 98v1M527.5 97v1M528.5 96v1M529.5 95v1M530.5 94v1M531.5 94v1M532.5 93v1M533.5 92v1M534.5 91v1M535.5 90v1M536.5 90v1M537.5 89v1M538.5 89v1M539.5 89v1M540.5 88v1M541.5 88v1M542.5 88v1M543.5 89v1M544.5 89v1M545.5 89v1M546.5 90v1M547.5 90v1M548.5 91v1M549.5 91v1M550.5 91v1M551.5 91v1M552.5 92v1M553.5 92v1M554.5 92v1M555.5 92v1M556.5 93v1M557.5 93v1M558.5 93v1M559.5 94v1M560.5 94v1M561.5 94v1M562.5 95v1M563.5 95v1M564.5 96v1M565.5 96v1M566.5 96v1M567.5 97v1M568.5 97v1M569.5 98v1M570.5 98v1M571.5 99v1M572.5 99v1M573.5 100v1M574.5 100v1M575.5 100v1M576.5 101v1M577.5 101v1M578.5 101v1M579.5 101v1M580.5 102v1M581.5 102v1M582.5 102v1M583.5 102v1M584.5 102v1M585.5 102v1M586.5 102v1M587.5 102v1M588.5 102v1M589.5 102v1M590.5 102v1M591.5 102v1M592.5 101v1M593.5 101v1M594.5 101v1M595.5 101v1M596.5 100v1M597.5 100v1M598.5 100v1M599.5 101v1M600.5 101v1M601.5 101v1M602.5 102v1M603.5 102v1M604.5 103v1M605.5 103v1M606.5 104v1M607.5 105v1M608.5 106v1M609.5 107v2M610.5 109v1M611.5 110v1M612.5 111v1M613.5 112v1M614.5 113v1M615.5 114v1M616.5 115v1M617.5 116v2M618.5 118v1M619.5 119v1M620.5 120v1M621.5 121v1M622.5 122v1M623.5 123v2M624.5 125v2M625.5 127v2M626.5 129v2M627.5 131v2M628.5 133v2M629.5 135v1M630.5 136v2M631.5 138v1M632.5 139v2M633.5 141v1M634.5 142v1M635.5 143v2M636.5 145v1M637.5 146v2M638.5 148v1M639.5 149v2M640.5 151v2M641.5 153v2M642.5 155v2M643.5 157v2M644.5 159v2M645.5 161v2M646.5 163v2M647.5 165v2M648.5 167v1M649.5 168v2M650.5 170v2M651.5 172v2M652.5 174v2M653.5 176v1M654.5 177v1M655.5 177v1M656.5 178v1M657.5 178v1M658.5 179v1M659.5 180v1M660.5 180v1M661.5 181v1M662.5 181v1M663.5 182v1M664.5 182v1M665.5 182v1M666.5 183v1M667.5 183v1M668.5 184v1M669.5 184v1M670.5 184v1M671.5 184v1M672.5 185v1M673.5 185v1M674.5 185v1M675.5 185v1M676.5 186v1M677.5 186v1M678.5 185v1M679.5 184v1M680.5 183v1M681.5 183v1M682.5 182v1M683.5 181v1M684.5 180v1M685.5 179v1M686.5 179v1M687.5 179v1M688.5 179v1M689.5 179v1M690.5 179v1M691.5 179v1M692.5 179v1M693.5 179v1M694.5 180v1M695.5 180v1M696.5 181v1M697.5 182v1M698.5 182v1M699.5 183v1M700.5 184v1M701.5 184v1M702.5 185v1M703.5 186v2M704.5 188v2M705.5 190v1M706.5 191v2M707.5 193v2M708.5 195v2M709.5 197v1M710.5 198v2M711.5 200v2M712.5 202v1M713.5 203v2M714.5 205v2M715.5 207v1M716.5 208v1M717.5 209v1M718.5 210v1M719.5 211v1M720.5 211v1M721.5 212v1M722.5 213v1M723.5 214v1M724.5 215v1M725.5 216v1M726.5 216v1M727.5 217v1M728.5 217v1M729.5 217v1M730.5 218v1M731.5 218v1M732.5 219v1M733.5 219v1M734.5 219v1M735.5 220v1M736.5 220v1M737.5 221v1M738.5 221v1M739.5 222v1M740.5 222v1M741.5 223v1M742.5 223v1M743.5 224v1M744.5 224v1M745.5 225v1M746.5 225v1M747.5 226v1M748.5 226v1M749.5 226v1M750.5 227v1M751.5 227v1M752.5 227v1M753.5 228v1M754.5 228v1M755.5 229v1M756.5 229v1M757.5 229v1M758.5 229v1M759.5 230v1M760.5 230v1M761.5 230v1M762.5 230v1M763.5 231v1M764.5 231v1M765.5 231v1M766.5 232v2M767.5 234v1M768.5 235v2M769.5 237v1M770.5 238v1M771.5 239v2M772.5 241v1M773.5 242v2M774.5 244v2M775.5 246v3M776.5 249v2M777.5 251v2M778.5 253v2M779.5 255v1M780.5 256v2M781.5 258v2M782.5 260v1M783.5 261v2M784.5 263v2M785.5 265v2M786.5 267v2M787.5 269v2M788.5 271v2M789.5 273v2M790.5 275v3M791.5 278v3M792.5 281v3M793.5 284v2M794.5 286v3M795.5 289v3M796.5 292v3M797.5 295v3M798.5 298v4M799.5 302v3M800.5 305v4M801.5 309v3M802.5 312v4M803.5 316v3M804.5 319v4M805.5 323v2M806.5 325v2M807.5 327v2M808.5 329v2M809.5 331v1M810.5 332v2M811.5 334v2M812.5 336v2M813.5 338v1M814.5 339v2M815.5 341v2M816.5 343v2M817.5 345v1M818.5 346v2M819.5 348v2M820.5 350v2M821.5 352v1M822.5 352v1M823.5 352v1M824.5 352v1M825.5 352v1M826.5 352v1M827.5 352v1M828.5 352v1M829.5 352v1M830.5 352v1M831.5 352v1M832.5 351v1M833.5 351v1M834.5 350v1M835.5 350v1M836.5 349v1M837.5 349v1M838.5 349v1M839.5 349v1M840.5 349v1M841.5 349v1M842.5 349v1M843.5 349v1M844.5 349v1M845.5 349v1M846.5 348v1M847.5 346v2M848.5 345v1M849.5 344v1M850.5 343v1M851.5 341v2M852.5 340v1M853.5 338v2M854.5 336v2M855.5 334v2M856.5 332v2M857.5 330v2M858.5 328v2M859.5 326v2M860.5 324v2M861.5 322v2M862.5 321v1M863.5 320v1M864.5 318v2M865.5 317v1M866.5 316v1M867.5 314v2M868.5 313v1M869.5 312v1M870.5 310v2M871.5 308v2M872.5 306v2M873.5 304v2M874.5 302v2M875.5 300v2M876.5 298v2M877.5 297v1M878.5 297v1M879.5 297v1M880.5 297v1M881.5 296v1M882.5 296v1M883.5 296v1M884.5 296v1M885.5 297v2M886.5 299v2M887.5 301v2M888.5 303v2M889.5 305v1M890.5 306v2M891.5 308v2M892.5 310v2M893.5 312v2M894.5 314v2M895.5 316v3M896.5 319v3M897.5 322v3M898.5 325v2M899.5 327v3M900.5 330v3M901.5 333v4M902.5 337v6M903.5 343v4M904.5 347v4M905.5 351v3M906.5 354v4M907.5 358v3M908.5 361v3M909.5 364v4M910.5 368v3M911.5 371v4M912.5 375v4M913.5 379v4M914.5 383v5M915.5 388v5M916.5 393v4M917.5 397v5M918.5 402v4M919.5 406v5M920.5 411v5M921.5 416v4M922.5 420v5M923.5 425v4M924.5 429v4M925.5 433v4M926.5 437v4M927.5 441v4M928.5 445v4M929.5 449v3M930.5 452v4M931.5 456v4M932.5 460v3M933.5 463v4M934.5 467v3M935.5 470v2M936.5 472v3M937.5 475v2M938.5 477v3M939.5 480v2M940.5 482v2M941.5 484v1M942.5 485v1M943.5 486v1M944.5 487v2M945.5 489v1M946.5 490v1M947.5 491v1M948.5 492v1M949.5 493v1M950.5 492v1M951.5 492v1M952.5 491v1M953.5 491v1M954.5 490v1M955.5 489v1M956.5 489v1M957.5 488v1M958.5 486v2M959.5 484v2M960.5 482v2M961.5 480v2M962.5 478v2M963.5 476v2M964.5 474v2M965.5 472v2M966.5 470v2M967.5 468v2M968.5 466v2M969.5 463v3M970.5 461v2M971.5 459v2M972.5 457v2M973.5 455v2M974.5 453v2M975.5 452v1M976.5 450v2M977.5 448v2M978.5 447v1M979.5 445v2M980.5 443v2M981.5 442v1M982.5 441v1M983.5 440v1M984.5 439v1M985.5 437v2M986.5 436v1M987.5 435v1M988.5 434v1M989.5 432v2M990.5 430v2M991.5 428v2M992.5 425v3M993.5 423v2M994.5 421v2M995.5 418v3M996.5 416v2M997.5 413v3M998.5 411v2M999.5 408v3M1000.5 405v3M1001.5 402v3M1002.5 400v2M1003.5 397v3M1004.5 394v3M1005.5 391v3M1006.5 389v2M1007.5 387v2M1008.5 384v3M1009.5 382v2M1010.5 379v3M1011.5 377v2M1012.5 375v2M1013.5 373v2M1014.5 372v1M1015.5 370v2M1016.5 369v1M1017.5 368v1M1018.5 366v2M1019.5 365v1M1020.5 364v1M1021.5 364v1M1022.5 363v1M1023.5 363v1M1024.5 363v1M1025.5 362v1M1026.5 362v1M1027.5 362v1M1028.5 361v1M1029.5 361v1M1030.5 360v1M1031.5 359v1M1032.5 358v1M1033.5 358v1M1034.5 357v1M1035.5 356v1M1036.5 355v1M1037.5 354v1M1038.5 354v1M1039.5 354v1M1040.5 354v1M1041.5 354v1M1042.5 355v1M1043.5 355v1M1044.5 355v1M1045.5 355v1M1046.5 356v1M1047.5 357v1M1048.5 358v1M1049.5 359v1M1050.5 360v1M1051.5 361v2M1052.5 363v1M1053.5 364v1M1054.5 365v1M1055.5 366v1M1056.5 367v1M1057.5 368v1M1058.5 369v1M1059.5 370v1M1060.5 371v1M1061.5 372v1M1062.5 373v2M1063.5 375v1M1064.5 376v1M1065.5 377v1M1066.5 378v1M1067.5 379v1M1068.5 380v2M1069.5 382v1M1070.5 383v1M1071.5 384v2M1072.5 386v1M1073.5 387v1M1074.5 388v1M1075.5 389v1M1076.5 390v1M1077.5 390v1M1078.5 391v1M1079.5 392v1M1080.5 393v1M1081.5 394v1M1082.5 395v1M1083.5 396v1M1084.5 397v1M1085.5 398v1M1086.5 399v1M1087.5 400v1M1088.5 401v2M1089.5 403v1M1090.5 404v1M1091.5 405v2M1092.5 407v1M1093.5 408v1M1094.5 408v1M1095.5 408v1M1096.5 409v1M1097.5 409v1M1098.5 409v1M1099.5 409v1M1100.5 410v1M1101.5 410v1M1102.5 410v1M1103.5 410v1M1104.5 411v1M1105.5 411v1M1106.5 411v1M1107.5 412v1M1108.5 412v1M1109.5 412v1M1110.5 413v1M1111.5 413v1M1112.5 413v1M1113.5 413v1M1114.5 413v1M1115.5 413v1M1116.5 414v1M1117.5 415v1" stroke="#0000c8" stroke-width="1" fill="none"/>
<rect x="1421" y="32" width="2" height="1" fill="#000"/>
<text x="1426.3" y="36.3" font-size="10" fill="#000" textLength="33" lengthAdjust="spacingAndGlyphs">1.02570</text>
<rect x="1421" y="65" width="2" height="1" fill="#000"/>
<text x="1426.3" y="69.3" font-size="10" fill="#000" textLength="33" lengthAdjust="spacingAndGlyphs">1.02210</text>
<rect x="1421" y="98" width="2" height="1" fill="#000"/>
<text x="1426.3" y="102.3" font-size="10" fill="#000" textLength="33" lengthAdjust="spacingAndGlyphs">1.01850</text>
<rect x="1421" y="131" width="2" height="1" fill="#000"/>
<text x="1426.3" y="135.3" font-size="10" fill="#000" textLength="33" lengthAdjust="spacingAndGlyphs">1.01490</text>
<rect x="1421" y="164" width="2" height="1" fill="#000"/>
<text x="1426.3" y="168.3" font-size="10" fill="#000" textLength="33" lengthAdjust="spacingAndGlyphs">1.01130</text>
<rect x="1421" y="197" width="2" height="1" fill="#000"/>
<text x="1426.3" y="201.3" font-size="10" fill="#000" textLength="33" lengthAdjust="spacingAndGlyphs">1.00770</text>
<rect x="1421" y="230" width="2" height="1" fill="#000"/>
<text x="1426.3" y="234.3" font-size="10" fill="#000" textLength="33" lengthAdjust="spacingAndGlyphs">1.00410</text>
<rect x="1421" y="263" width="2" height="1" fill="#000"/>
<text x="1426.3" y="267.3" font-size="10" fill="#000" textLength="33" lengthAdjust="spacingAndGlyphs">1.00050</text>
<rect x="1421" y="296" width="2" height="1" fill="#000"/>
<text x="1426.3" y="300.3" font-size="10" fill="#000" textLength="33" lengthAdjust="spacingAndGlyphs">0.99690</text>
<rect x="1421" y="329" width="2" height="1" fill="#000"/>
<text x="1426.3" y="333.3" font-size="10" fill="#000" textLength="33" lengthAdjust="spacingAndGlyphs">0.99330</text>
<rect x="1421" y="362" width="2" height="1" fill="#000"/>
<text x="1426.3" y="366.3" font-size="10" fill="#000" textLength="33" lengthAdjust="spacingAndGlyphs">0.98970</text>
<rect x="1421" y="395" width="2" height="1" fill="#000"/>
<text x="1426.3" y="399.3" font-size="10" fill="#000" textLength="33" lengthAdjust="spacingAndGlyphs">0.98610</text>
<rect x="1421" y="428" width="2" height="1" fill="#000"/>
<text x="1426.3" y="432.3" font-size="10" fill="#000" textLength="33" lengthAdjust="spacingAndGlyphs">0.98250</text>
<rect x="1421" y="461" width="2" height="1" fill="#000"/>
<text x="1426.3" y="465.3" font-size="10" fill="#000" textLength="33" lengthAdjust="spacingAndGlyphs">0.97900</text>
<rect x="1421" y="494" width="2" height="1" fill="#000"/>
<text x="1426.3" y="498.3" font-size="10" fill="#000" textLength="33" lengthAdjust="spacingAndGlyphs">0.97540</text>
<rect x="1421" y="527" width="2" height="1" fill="#000"/>
<text x="1426.3" y="531.3" font-size="10" fill="#000" textLength="33" lengthAdjust="spacingAndGlyphs">0.97180</text>
<rect x="1421" y="560" width="2" height="1" fill="#000"/>
<text x="1426.3" y="564.3" font-size="10" fill="#000" textLength="33" lengthAdjust="spacingAndGlyphs">0.96820</text>
<rect x="5" y="156" width="1417" height="3" fill="#ff0000"/>
<rect x="1422" y="151" width="41" height="11" fill="#ff0000"/>
<text x="1426.3" y="160" font-size="10" fill="#fff" textLength="33" lengthAdjust="spacingAndGlyphs">1.01205</text>
<rect x="5" y="257" width="1417" height="3" fill="#ff0000"/>
<rect x="1422" y="252" width="41" height="11" fill="#ff0000"/>
<text x="1426.3" y="261" font-size="10" fill="#fff" textLength="33" lengthAdjust="spacingAndGlyphs">1.00106</text>
<rect x="5" y="321" width="1417" height="3" fill="#00ff00"/>
<rect x="1422" y="316" width="41" height="11" fill="#00ff00"/>
<text x="1426.3" y="325" font-size="10" fill="#fff" textLength="33" lengthAdjust="spacingAndGlyphs">0.99406</text>
<rect x="5" y="450" width="1417" height="3" fill="#0000ff"/>
<rect x="1422" y="445" width="41" height="11" fill="#0000ff"/>
<text x="1426.3" y="454" font-size="10" fill="#fff" textLength="33" lengthAdjust="spacingAndGlyphs">0.98004</text>
<rect x="5" y="542" width="1417" height="3" fill="#0000ff"/>
<rect x="1422" y="537" width="41" height="11" fill="#0000ff"/>
<text x="1426.3" y="546" font-size="10" fill="#fff" textLength="33" lengthAdjust="spacingAndGlyphs">0.97001</text>
<rect x="1422" y="417" width="41" height="11" fill="#000"/>
<text x="1426.3" y="426" font-size="10" fill="#fff" textLength="33" lengthAdjust="spacingAndGlyphs">0.98325</text>
<text x="20.1" y="35.7" font-size="10" fill="#000" textLength="68" lengthAdjust="spacingAndGlyphs">USDCHF-,Daily</text>
<text x="93.6" y="35.7" font-size="10" fill="#000" textLength="141.6" lengthAdjust="spacingAndGlyphs">0.98263 0.98401 0.98215 0.98325</text>
<rect x="5" y="592" width="1" height="21" fill="#c0c0c0"/>
<rect x="13" y="590" width="1" height="23" fill="#c0c0c0"/>
<rect x="21" y="587" width="1" height="26" fill="#c0c0c0"/>
<rect x="29" y="584" width="1" height="29" fill="#c0c0c0"/>
<rect x="37" y="584" width="1" height="29" fill="#c0c0c0"/>
<rect x="45" y="584" width="1" height="29" fill="#c0c0c0"/>
<rect x="53" y="586" width="1" height="27" fill="#c0c0c0"/>
<rect x="61" y="586" width="1" height="27" fill="#c0c0c0"/>
<rect x="69" y="589" width="1" height="24" fill="#c0c0c0"/>
<rect x="77" y="592" width="1" height="21" fill="#c0c0c0"/>
<rect x="85" y="594" width="1" height="19" fill="#c0c0c0"/>
<rect x="93" y="597" width="1" height="16" fill="#c0c0c0"/>
<rect x="101" y="599" width="1" height="14" fill="#c0c0c0"/>
<rect x="109" y="601" width="1" height="12" fill="#c0c0c0"/>
<rect x="117" y="603" width="1" height="10" fill="#c0c0c0"/>
<rect x="125" y="604" width="1" height="9" fill="#c0c0c0"/>
<rect x="133" y="607" width="1" height="6" fill="#c0c0c0"/>
<rect x="141" y="608" width="1" height="5" fill="#c0c0c0"/>
<rect x="149" y="609" width="1" height="4" fill="#c0c0c0"/>
<rect x="157" y="610" width="1" height="3" fill="#c0c0c0"/>
<rect x="165" y="607" width="1" height="6" fill="#c0c0c0"/>
<rect x="173" y="606" width="1" height="7" fill="#c0c0c0"/>
<rect x="181" y="600" width="1" height="13" fill="#c0c0c0"/>
<rect x="189" y="598" width="1" height="15" fill="#c0c0c0"/>
<rect x="197" y="597" width="1" height="16" fill="#c0c0c0"/>
<rect x="205" y="594" width="1" height="19" fill="#c0c0c0"/>
<rect x="213" y="594" width="1" height="19" fill="#c0c0c0"/>
<rect x="221" y="597" width="1" height="16" fill="#c0c0c0"/>
<rect x="229" y="598" width="1" height="15" fill="#c0c0c0"/>
<rect x="237" y="601" width="1" height="12" fill="#c0c0c0"/>
<rect x="245" y="603" width="1" height="10" fill="#c0c0c0"/>
<rect x="253" y="606" width="1" height="7" fill="#c0c0c0"/>
<rect x="261" y="609" width="1" height="4" fill="#c0c0c0"/>
<rect x="269" y="612" width="1" height="3" fill="#c0c0c0"/>
<rect x="277" y="612" width="1" height="8" fill="#c0c0c0"/>
<rect x="285" y="612" width="1" height="11" fill="#c0c0c0"/>
<rect x="293" y="612" width="1" height="13" fill="#c0c0c0"/>
<rect x="301" y="612" width="1" height="15" fill="#c0c0c0"/>
<rect x="309" y="612" width="1" height="16" fill="#c0c0c0"/>
<rect x="317" y="612" width="1" height="16" fill="#c0c0c0"/>
<rect x="325" y="612" width="1" height="16" fill="#c0c0c0"/>
<rect x="333" y="612" width="1" height="14" fill="#c0c0c0"/>
<rect x="341" y="612" width="1" height="14" fill="#c0c0c0"/>
<rect x="349" y="612" width="1" height="11" fill="#c0c0c0"/>
<rect x="357" y="612" width="1" height="9" fill="#c0c0c0"/>
<rect x="365" y="612" width="1" height="8" fill="#c0c0c0"/>
<rect x="373" y="612" width="1" height="6" fill="#c0c0c0"/>
<rect x="381" y="612" width="1" height="4" fill="#c0c0c0"/>
<rect x="389" y="612" width="1" height="2" fill="#c0c0c0"/>
<rect x="397" y="612" width="1" height="1" fill="#c0c0c0"/>
<rect x="413" y="611" width="1" height="2" fill="#c0c0c0"/>
<rect x="421" y="609" width="1" height="4" fill="#c0c0c0"/>
<rect x="429" y="607" width="1" height="6" fill="#c0c0c0"/>
<rect x="437" y="606" width="1" height="7" fill="#c0c0c0"/>
<rect x="445" y="605" width="1" height="8" fill="#c0c0c0"/>
<rect x="453" y="602" width="1" height="11" fill="#c0c0c0"/>
<rect x="461" y="597" width="1" height="16" fill="#c0c0c0"/>
<rect x="469" y="591" width="1" height="22" fill="#c0c0c0"/>
<rect x="477" y="588" width="1" height="25" fill="#c0c0c0"/>
<rect x="485" y="584" width="1" height="29" fill="#c0c0c0"/>
<rect x="493" y="579" width="1" height="34" fill="#c0c0c0"/>
<rect x="501" y="576" width="1" height="37" fill="#c0c0c0"/>
<rect x="509" y="573" width="1" height="40" fill="#c0c0c0"/>
<rect x="517" y="572" width="1" height="41" fill="#c0c0c0"/>
<rect x="525" y="572" width="1" height="41" fill="#c0c0c0"/>
<rect x="533" y="572" width="1" height="41" fill="#c0c0c0"/>
<rect x="541" y="573" width="1" height="40" fill="#c0c0c0"/>
<rect x="549" y="575" width="1" height="38" fill="#c0c0c0"/>
<rect x="557" y="576" width="1" height="37" fill="#c0c0c0"/>
<rect x="565" y="578" width="1" height="35" fill="#c0c0c0"/>
<rect x="573" y="581" width="1" height="32" fill="#c0c0c0"/>
<rect x="581" y="583" width="1" height="30" fill="#c0c0c0"/>
<rect x="589" y="583" width="1" height="30" fill="#c0c0c0"/>
<rect x="597" y="584" width="1" height="29" fill="#c0c0c0"/>
<rect x="605" y="587" width="1" height="26" fill="#c0c0c0"/>
<rect x="613" y="592" width="1" height="21" fill="#c0c0c0"/>
<rect x="621" y="597" width="1" height="16" fill="#c0c0c0"/>
<rect x="629" y="604" width="1" height="9" fill="#c0c0c0"/>
<rect x="637" y="608" width="1" height="5" fill="#c0c0c0"/>
<rect x="645" y="611" width="1" height="2" fill="#c0c0c0"/>
<rect x="669" y="612" width="1" height="1" fill="#c0c0c0"/>
<rect x="677" y="612" width="1" height="3" fill="#c0c0c0"/>
<rect x="685" y="612" width="1" height="3" fill="#c0c0c0"/>
<rect x="693" y="612" width="1" height="4" fill="#c0c0c0"/>
<rect x="701" y="612" width="1" height="8" fill="#c0c0c0"/>
<rect x="709" y="612" width="1" height="12" fill="#c0c0c0"/>
<rect x="717" y="612" width="1" height="15" fill="#c0c0c0"/>
<rect x="725" y="612" width="1" height="16" fill="#c0c0c0"/>
<rect x="733" y="612" width="1" height="15" fill="#c0c0c0"/>
<rect x="741" y="612" width="1" height="13" fill="#c0c0c0"/>
<rect x="749" y="612" width="1" height="12" fill="#c0c0c0"/>
<rect x="757" y="612" width="1" height="14" fill="#c0c0c0"/>
<rect x="765" y="612" width="1" height="18" fill="#c0c0c0"/>
<rect x="773" y="612" width="1" height="24" fill="#c0c0c0"/>
<rect x="781" y="612" width="1" height="28" fill="#c0c0c0"/>
<rect x="789" y="612" width="1" height="30" fill="#c0c0c0"/>
<rect x="797" y="612" width="1" height="33" fill="#c0c0c0"/>
<rect x="805" y="612" width="1" height="38" fill="#c0c0c0"/>
<rect x="813" y="612" width="1" height="38" fill="#c0c0c0"/>
<rect x="821" y="612" width="1" height="40" fill="#c0c0c0"/>
<rect x="829" y="612" width="1" height="38" fill="#c0c0c0"/>
<rect x="837" y="612" width="1" height="36" fill="#c0c0c0"/>
<rect x="845" y="612" width="1" height="34" fill="#c0c0c0"/>
<rect x="853" y="612" width="1" height="28" fill="#c0c0c0"/>
<rect x="861" y="612" width="1" height="24" fill="#c0c0c0"/>
<rect x="869" y="612" width="1" height="21" fill="#c0c0c0"/>
<rect x="877" y="612" width="1" height="16" fill="#c0c0c0"/>
<rect x="885" y="612" width="1" height="18" fill="#c0c0c0"/>
<rect x="893" y="612" width="1" height="25" fill="#c0c0c0"/>
<rect x="901" y="612" width="1" height="33" fill="#c0c0c0"/>
<rect x="909" y="612" width="1" height="40" fill="#c0c0c0"/>
<rect x="917" y="612" width="1" height="47" fill="#c0c0c0"/>
<rect x="925" y="612" width="1" height="49" fill="#c0c0c0"/>
<rect x="933" y="612" width="1" height="49" fill="#c0c0c0"/>
<rect x="941" y="612" width="1" height="51" fill="#c0c0c0"/>
<rect x="949" y="612" width="1" height="51" fill="#c0c0c0"/>
<rect x="957" y="612" width="1" height="48" fill="#c0c0c0"/>
<rect x="965" y="612" width="1" height="41" fill="#c0c0c0"/>
<rect x="973" y="612" width="1" height="36" fill="#c0c0c0"/>
<rect x="981" y="612" width="1" height="31" fill="#c0c0c0"/>
<rect x="989" y="612" width="1" height="28" fill="#c0c0c0"/>
<rect x="997" y="612" width="1" height="21" fill="#c0c0c0"/>
<rect x="1005" y="612" width="1" height="15" fill="#c0c0c0"/>
<rect x="1013" y="612" width="1" height="9" fill="#c0c0c0"/>
<rect x="1021" y="612" width="1" height="5" fill="#c0c0c0"/>
<rect x="1029" y="612" width="1" height="4" fill="#c0c0c0"/>
<rect x="1037" y="612" width="1" height="2" fill="#c0c0c0"/>
<rect x="1045" y="612" width="1" height="4" fill="#c0c0c0"/>
<rect x="1053" y="612" width="1" height="6" fill="#c0c0c0"/>
<rect x="1061" y="612" width="1" height="7" fill="#c0c0c0"/>
<rect x="1069" y="612" width="1" height="6" fill="#c0c0c0"/>
<rect x="1077" y="612" width="1" height="6" fill="#c0c0c0"/>
<rect x="1085" y="612" width="1" height="8" fill="#c0c0c0"/>
<rect x="1093" y="612" width="1" height="9" fill="#c0c0c0"/>
<rect x="1101" y="612" width="1" height="10" fill="#c0c0c0"/>
<rect x="1109" y="612" width="1" height="10" fill="#c0c0c0"/>
<rect x="1117" y="612" width="1" height="10" fill="#c0c0c0"/>
<path d="M5.5 595v1M6.5 595v1M7.5 595v1M11.5 594v1M12.5 594v1M13.5 594v1M17.5 593v1M18.5 592v1M19.5 592v1M23.5 591v1M24.5 591v1M25.5 591v1M29.5 590v1M30.5 590v1M31.5 590v1M35.5 589v1M36.5 589v1M37.5 589v1M41.5 588v1M42.5 588v1M43.5 588v1M47.5 587v1M48.5 587v1M49.5 587v1M53.5 586v1M54.5 586v1M55.5 586v1M59.5 586v1M60.5 586v1M61.5 586v1M65.5 586v1M66.5 586v1M67.5 586v1M71.5 586v1M72.5 586v1M73.5 586v1M77.5 586v1M78.5 586v1M79.5 586v1M83.5 586v1M84.5 586v1M85.5 586v1M89.5 586v1M90.5 587v1M91.5 587v1M95.5 587v1M96.5 588v1M97.5 588v1M101.5 589v1M102.5 589v1M103.5 589v1M107.5 590v1M108.5 591v1M109.5 591v1M113.5 591v1M114.5 592v1M115.5 592v1M119.5 593v1M120.5 593v1M121.5 593v1M125.5 595v1M126.5 595v1M127.5 595v1M131.5 596v1M132.5 597v1M133.5 597v1M137.5 597v1M138.5 598v1M139.5 598v1M143.5 599v1M144.5 599v1M145.5 599v1M149.5 601v1M150.5 601v1M151.5 601v1M155.5 602v1M156.5 602v1M157.5 602v1M161.5 603v1M162.5 603v1M163.5 603v1M167.5 604v1M168.5 604v1M169.5 604v1M173.5 605v1M174.5 605v1M175.5 605v1M179.5 605v1M180.5 605v1M181.5 605v1M185.5 605v1M186.5 604v1M187.5 604v1M191.5 604v1M192.5 604v1M193.5 604v1M197.5 604v1M198.5 604v1M199.5 604v1M203.5 603v1M204.5 602v1M205.5 602v1M209.5 601v1M210.5 601v1M211.5 601v1M215.5 600v1M216.5 600v1M217.5 600v1M221.5 599v1M222.5 599v1M223.5 599v1M227.5 598v1M228.5 598v1M229.5 598v1M233.5 598v1M234.5 598v1M235.5 598v1M239.5 598v1M240.5 598v1M241.5 598v1M245.5 597v1M246.5 597v1M247.5 597v1M251.5 598v1M252.5 598v1M253.5 598v1M257.5 598v1M258.5 599v1M259.5 599v1M263.5 599v1M264.5 600v1M265.5 600v1M269.5 601v1M270.5 601v1M271.5 602v1M275.5 603v1M276.5 604v1M277.5 604v1M281.5 605v1M282.5 606v1M283.5 606v1M287.5 608v1M288.5 608v1M289.5 608v1M293.5 610v1M294.5 610v1M295.5 611v1M299.5 612v1M300.5 613v1M301.5 613v1M305.5 614v1M306.5 615v1M307.5 615v1M311.5 617v1M312.5 617v1M313.5 617v1M317.5 619v1M318.5 619v1M319.5 620v1M323.5 622v1M324.5 622v1M325.5 623v1M329.5 623v1M330.5 624v1M331.5 624v1M335.5 624v1M336.5 625v1M337.5 625v1M341.5 626v1M342.5 626v1M343.5 626v1M347.5 626v1M348.5 626v1M349.5 626v1M353.5 626v1M354.5 626v1M355.5 626v1M359.5 626v1M360.5 626v1M361.5 626v1M365.5 625v1M366.5 625v1M367.5 625v1M371.5 624v1M372.5 624v1M373.5 624v1M377.5 624v1M378.5 623v1M379.5 623v1M383.5 623v1M384.5 622v1M385.5 622v1M389.5 621v1M390.5 621v1M391.5 621v1M395.5 620v1M396.5 620v1M397.5 620v1M401.5 619v1M402.5 619v1M403.5 619v1M407.5 618v1M408.5 617v1M409.5 617v1M413.5 616v1M414.5 616v1M415.5 616v1M419.5 615v1M420.5 615v1M421.5 615v1M425.5 614v1M426.5 614v1M427.5 614v1M431.5 613v1M432.5 612v1M433.5 612v1M437.5 611v1M438.5 611v1M439.5 611v1M443.5 610v1M444.5 610v1M445.5 610v1M449.5 609v1M450.5 609v1M451.5 609v1M455.5 608v1M456.5 608v1M457.5 608v1M461.5 607v1M462.5 607v1M463.5 606v1M467.5 605v1M468.5 604v1M469.5 604v1M473.5 603v1M474.5 603v1M475.5 603v1M479.5 601v1M480.5 601v1M481.5 600v1M485.5 598v1M486.5 598v1M487.5 597v1M491.5 596v1M492.5 595v1M493.5 595v1M497.5 594v1M498.5 593v1M499.5 593v1M503.5 591v1M504.5 591v1M505.5 591v1M509.5 589v1M510.5 589v1M511.5 588v1M515.5 587v1M516.5 586v1M517.5 586v1M521.5 584v1M522.5 583v1M523.5 582v1M527.5 581v1M528.5 580v1M529.5 580v1M533.5 579v1M534.5 579v1M535.5 579v1M539.5 578v1M540.5 577v1M541.5 577v1M545.5 576v1M546.5 576v1M547.5 576v1M551.5 575v1M552.5 574v1M553.5 574v1M557.5 573v1M558.5 573v1M559.5 573v1M563.5 573v1M564.5 573v1M565.5 573v1M569.5 573v1M570.5 574v1M571.5 574v1M575.5 574v1M576.5 574v1M577.5 574v1M581.5 575v1M582.5 575v1M583.5 575v1M587.5 576v1M588.5 576v1M589.5 576v1M593.5 576v1M594.5 577v1M595.5 577v1M599.5 577v1M600.5 578v1M601.5 578v1M605.5 579v1M606.5 579v1M607.5 579v1M611.5 580v1M612.5 581v1M613.5 581v1M617.5 582v1M618.5 582v1M619.5 582v1M623.5 584v1M624.5 584v1M625.5 584v1M629.5 586v1M630.5 586v1M631.5 587v1M635.5 588v1M636.5 589v1M637.5 589v1M641.5 590v1M642.5 591v1M643.5 591v1M647.5 593v1M648.5 593v1M649.5 594v1M653.5 596v1M654.5 596v1M655.5 597v1M659.5 598v1M660.5 599v1M661.5 599v1M665.5 601v1M666.5 601v1M667.5 602v1M671.5 604v1M672.5 604v1M673.5 605v1M677.5 607v1M678.5 607v1M679.5 607v1M683.5 608v1M684.5 609v1M685.5 609v1M689.5 610v1M690.5 611v1M691.5 611v1M695.5 612v1M696.5 612v1M697.5 612v1M701.5 612v1M702.5 612v1M703.5 612v1M707.5 613v1M708.5 614v1M709.5 614v1M713.5 615v1M714.5 615v1M715.5 615v1M719.5 617v1M720.5 617v1M721.5 617v1M725.5 619v1M726.5 619v1M727.5 619v1M731.5 620v1M732.5 621v1M733.5 621v1M737.5 621v1M738.5 622v1M739.5 622v1M743.5 622v1M744.5 622v1M745.5 622v1M749.5 623v1M750.5 623v1M751.5 623v1M755.5 624v1M756.5 624v1M757.5 624v1M761.5 624v1M762.5 625v1M763.5 625v1M767.5 625v1M768.5 625v1M769.5 625v1M773.5 626v1M774.5 626v1M775.5 627v1M779.5 628v1M780.5 629v1M781.5 629v1M785.5 629v1M786.5 630v1M787.5 630v1M791.5 630v1M792.5 631v1M793.5 631v1M797.5 632v1M798.5 632v1M799.5 633v1M803.5 634v1M804.5 635v1M805.5 635v1M809.5 636v1M810.5 637v1M811.5 637v1M815.5 638v1M816.5 639v1M817.5 639v1M821.5 640v1M822.5 640v1M823.5 641v1M827.5 643v1M828.5 643v1M829.5 644v1M833.5 644v1M834.5 645v1M835.5 645v1M839.5 645v1M840.5 646v1M841.5 646v1M845.5 647v1M846.5 647v1M847.5 647v1M851.5 647v1M852.5 647v1M853.5 647v1M857.5 647v1M858.5 647v1M859.5 647v1M863.5 647v1M864.5 646v1M865.5 646v1M869.5 645v1M870.5 645v1M871.5 645v1M875.5 644v1M876.5 643v1M877.5 643v1M881.5 642v1M882.5 642v1M883.5 642v1M887.5 641v1M888.5 640v1M889.5 640v1M893.5 639v1M894.5 639v1M895.5 639v1M899.5 638v1M900.5 638v1M901.5 638v1M905.5 638v1M906.5 639v1M907.5 639v1M911.5 639v1M912.5 639v1M913.5 639v1M917.5 640v1M918.5 640v1M919.5 640v1M923.5 641v1M924.5 642v1M925.5 642v1M929.5 643v1M930.5 644v1M931.5 644v1M935.5 646v1M936.5 646v1M937.5 647v1M941.5 649v1M942.5 649v1M943.5 650v1M947.5 651v1M948.5 652v1M949.5 652v1M953.5 653v1M954.5 654v1M955.5 654v1M959.5 656v1M960.5 656v1M961.5 656v1M965.5 658v1M966.5 658v1M967.5 658v1M971.5 658v1M972.5 658v1M973.5 658v1M977.5 658v1M978.5 657v1M979.5 657v1M983.5 657v1M984.5 656v1M985.5 656v1M989.5 655v1M990.5 655v1M991.5 654v1M995.5 653v1M996.5 652v1M997.5 652v1M1001.5 651v1M1002.5 650v1M1003.5 650v1M1007.5 648v1M1008.5 647v1M1009.5 646v1M1013.5 643v1M1014.5 642v1M1015.5 642v1M1019.5 639v1M1020.5 639v1M1021.5 638v1M1025.5 636v1M1026.5 635v1M1027.5 634v1M1031.5 632v1M1032.5 632v1M1033.5 631v1M1037.5 629v1M1038.5 629v1M1039.5 628v1M1043.5 626v1M1044.5 626v1M1045.5 625v1M1049.5 624v1M1050.5 624v1M1051.5 624v1M1055.5 622v1M1056.5 622v1M1057.5 622v1M1061.5 620v1M1062.5 620v1M1063.5 620v1M1067.5 619v1M1068.5 619v1M1069.5 619v1M1073.5 618v1M1074.5 618v1M1075.5 618v1M1079.5 617v1M1080.5 617v1M1081.5 617v1M1085.5 617v1M1086.5 617v1M1087.5 617v1M1091.5 618v1M1092.5 618v1M1093.5 618v1M1097.5 618v1M1098.5 619v1M1099.5 619v1M1103.5 619v1M1104.5 619v1M1105.5 619v1M1109.5 619v1M1110.5 619v1M1111.5 619v1M1115.5 620v1M1116.5 620v1M1117.5 620v1" stroke="#ff0000" stroke-width="1" fill="none"/>
<text x="8.6" y="578" font-size="10" fill="#000" textLength="154.5" lengthAdjust="spacingAndGlyphs">MACD(12,26,9) -0.001557 -0.001177</text>
<rect x="1421" y="567" width="1" height="1" fill="#000"/>
<rect x="1421" y="667" width="1" height="1" fill="#000"/>
<rect x="1421" y="672" width="1" height="1" fill="#000"/>
<rect x="1421" y="799" width="1" height="1" fill="#000"/>
<rect x="1420" y="564" width="1" height="1" fill="#fff"/>
<rect x="1420" y="669" width="1" height="1" fill="#fff"/>
<text x="1423.7" y="576" font-size="10" fill="#000" textLength="33.5" lengthAdjust="spacingAndGlyphs">0.00613</text>
<rect x="1421" y="612" width="1" height="1" fill="#000"/>
<text x="1423.7" y="616" font-size="10" fill="#000" textLength="18.5" lengthAdjust="spacingAndGlyphs">0.00</text>
<text x="1423.7" y="665" font-size="10" fill="#000" textLength="42" lengthAdjust="spacingAndGlyphs">-0.007612</text>
<path d="M6 710.5H1420" stroke="#c0c0c0" stroke-width="1" stroke-dasharray="3,3" fill="none"/>
<path d="M6 761.5H1420" stroke="#c0c0c0" stroke-width="1" stroke-dasharray="3,3" fill="none"/>
<path d="M5.5 724v1M6.5 723v1M7.5 722v1M8.5 721v1M9.5 719v2M10.5 718v1M11.5 717v1M12.5 716v1M13.5 715v1M14.5 715v1M15.5 714v1M16.5 714v1M17.5 714v1M18.5 713v1M19.5 713v1M20.5 712v1M21.5 712v1M22.5 712v1M23.5 711v1M24.5 711v1M25.5 710v1M26.5 710v1M27.5 709v1M28.5 709v1M29.5 708v1M30.5 709v2M31.5 711v1M32.5 712v2M33.5 714v1M34.5 715v2M35.5 717v1M36.5 718v2M37.5 720v1M38.5 720v1M39.5 720v1M40.5 720v1M41.5 720v1M42.5 720v1M43.5 720v1M44.5 720v1M45.5 720v1M46.5 720v1M47.5 720v1M48.5 720v1M49.5 720v1M50.5 721v1M51.5 721v1M52.5 721v1M53.5 721v1M54.5 721v1M55.5 721v1M56.5 721v1M57.5 721v1M58.5 721v1M59.5 721v1M60.5 721v1M61.5 721v1M62.5 722v1M63.5 723v1M64.5 724v1M65.5 725v2M66.5 727v1M67.5 728v1M68.5 729v1M69.5 730v1M70.5 730v1M71.5 731v1M72.5 731v1M73.5 731v1M74.5 732v1M75.5 732v1M76.5 733v1M77.5 733v1M78.5 733v1M79.5 733v1M80.5 733v1M81.5 733v1M82.5 732v1M83.5 732v1M84.5 732v1M85.5 732v1M86.5 732v1M87.5 732v1M88.5 733v1M89.5 733v1M90.5 733v1M91.5 733v1M92.5 734v1M93.5 734v1M94.5 734v1M95.5 734v1M96.5 734v1M97.5 734v1M98.5 734v1M99.5 734v1M100.5 734v1M101.5 734v1M102.5 734v1M103.5 734v1M104.5 734v1M105.5 734v1M106.5 734v1M107.5 734v1M108.5 734v1M109.5 734v1M110.5 734v1M111.5 734v1M112.5 734v1M113.5 734v1M114.5 735v1M115.5 735v1M116.5 735v1M117.5 735v1M118.5 735v1M119.5 734v1M120.5 734v1M121.5 734v1M122.5 733v1M123.5 733v1M124.5 732v1M125.5 732v1M126.5 733v2M127.5 735v1M128.5 736v1M129.5 737v2M130.5 739v1M131.5 740v1M132.5 741v2M133.5 743v1M134.5 742v1M135.5 741v1M136.5 740v1M137.5 740v1M138.5 739v1M139.5 738v1M140.5 737v1M141.5 736v1M142.5 736v1M143.5 736v1M144.5 737v1M145.5 737v1M146.5 737v1M147.5 737v1M148.5 738v1M149.5 738v1M150.5 738v1M151.5 738v1M152.5 737v1M153.5 737v1M154.5 737v1M155.5 737v1M156.5 736v1M157.5 736v1M158.5 734v2M159.5 732v2M160.5 730v2M161.5 729v1M162.5 727v2M163.5 725v2M164.5 723v2M165.5 722v1M166.5 722v1M167.5 722v1M168.5 722v1M169.5 722v1M170.5 723v1M171.5 723v1M172.5 723v1M173.5 723v1M174.5 721v2M175.5 719v2M176.5 718v1M177.5 716v2M178.5 715v1M179.5 713v2M180.5 711v2M181.5 710v1M182.5 711v2M183.5 713v1M184.5 714v1M185.5 715v2M186.5 717v1M187.5 718v1M188.5 719v2M189.5 721v1M190.5 721v1M191.5 721v1M192.5 721v1M193.5 721v1M194.5 720v1M195.5 720v1M196.5 720v1M197.5 720v1M198.5 720v1M199.5 719v1M200.5 719v1M201.5 718v1M202.5 718v1M203.5 717v1M204.5 717v1M205.5 716v1M206.5 717v1M207.5 718v1M208.5 719v1M209.5 720v1M210.5 721v1M211.5 722v1M212.5 723v1M213.5 724v1M214.5 725v1M215.5 726v2M216.5 728v1M217.5 729v1M218.5 730v1M219.5 731v2M220.5 733v1M221.5 734v1M222.5 734v1M223.5 734v1M224.5 734v1M225.5 734v1M226.5 734v1M227.5 734v1M228.5 734v1M229.5 734v1M230.5 734v1M231.5 735v1M232.5 735v1M233.5 735v1M234.5 736v1M235.5 736v1M236.5 737v1M237.5 737v1M238.5 737v1M239.5 737v1M240.5 737v1M241.5 737v1M242.5 737v1M243.5 737v1M244.5 737v1M245.5 737v1M246.5 737v1M247.5 738v1M248.5 738v1M249.5 738v1M250.5 739v1M251.5 739v1M252.5 740v1M253.5 740v1M254.5 741v1M255.5 741v1M256.5 742v1M257.5 742v1M258.5 743v1M259.5 744v1M260.5 744v1M261.5 745v1M262.5 746v2M263.5 748v2M264.5 750v1M265.5 751v2M266.5 753v1M267.5 754v2M268.5 756v2M269.5 758v1M270.5 758v1M271.5 758v1M272.5 757v1M273.5 757v1M274.5 757v1M275.5 757v1M276.5 756v1M277.5 756v1M278.5 755v1M279.5 754v1M280.5 753v1M281.5 753v1M282.5 752v1M283.5 751v1M284.5 750v1M285.5 749v1M286.5 749v1M287.5 749v1M288.5 749v1M289.5 749v1M290.5 750v1M291.5 750v1M292.5 750v1M293.5 750v1M294.5 750v1M295.5 751v1M296.5 751v1M297.5 751v1M298.5 752v1M299.5 752v1M300.5 753v1M301.5 753v1M302.5 752v1M303.5 752v1M304.5 751v1M305.5 751v1M306.5 750v1M307.5 749v1M308.5 749v1M309.5 748v1M310.5 748v1M311.5 748v1M312.5 747v1M313.5 747v1M314.5 747v1M315.5 747v1M316.5 746v1M317.5 746v1M318.5 746v1M319.5 746v1M320.5 746v1M321.5 746v1M322.5 745v1M323.5 745v1M324.5 745v1M325.5 745v1M326.5 745v1M327.5 744v1M328.5 744v1M329.5 744v1M330.5 743v1M331.5 743v1M332.5 742v1M333.5 742v1M334.5 742v1M335.5 742v1M336.5 743v1M337.5 743v1M338.5 743v1M339.5 743v1M340.5 744v1M341.5 744v1M342.5 742v2M343.5 741v1M344.5 739v2M345.5 738v1M346.5 736v2M347.5 735v1M348.5 733v2M349.5 732v1M350.5 732v1M351.5 733v1M352.5 733v1M353.5 733v1M354.5 734v1M355.5 734v1M356.5 735v1M357.5 735v1M358.5 735v1M359.5 736v1M360.5 736v1M361.5 736v1M362.5 737v1M363.5 737v1M364.5 738v1M365.5 738v1M366.5 737v1M367.5 736v1M368.5 735v1M369.5 735v1M370.5 734v1M371.5 733v1M372.5 732v1M373.5 731v1M374.5 731v1M375.5 731v1M376.5 731v1M377.5 731v1M378.5 731v1M379.5 731v1M380.5 731v1M381.5 731v1M382.5 731v1M383.5 731v1M384.5 731v1M385.5 731v1M386.5 730v1M387.5 730v1M388.5 730v1M389.5 730v1M390.5 730v1M391.5 731v1M392.5 731v1M393.5 731v1M394.5 732v1M395.5 732v1M396.5 733v1M397.5 733v1M398.5 733v1M399.5 733v1M400.5 733v1M401.5 733v1M402.5 732v1M403.5 732v1M404.5 732v1M405.5 732v1M406.5 731v1M407.5 730v1M408.5 729v1M409.5 729v1M410.5 728v1M411.5 727v1M412.5 726v1M413.5 725v1M414.5 725v1M415.5 725v1M416.5 724v1M417.5 724v1M418.5 724v1M419.5 724v1M420.5 723v1M421.5 723v1M422.5 723v1M423.5 723v1M424.5 723v1M425.5 723v1M426.5 723v1M427.5 723v1M428.5 723v1M429.5 723v1M430.5 723v1M431.5 723v1M432.5 724v1M433.5 724v1M434.5 724v1M435.5 724v1M436.5 725v1M437.5 725v1M438.5 725v1M439.5 724v1M440.5 724v1M441.5 723v1M442.5 723v1M443.5 722v1M444.5 722v1M445.5 721v1M446.5 720v1M447.5 719v1M448.5 718v1M449.5 716v2M450.5 715v1M451.5 714v1M452.5 713v1M453.5 712v1M454.5 711v1M455.5 711v1M456.5 710v1M457.5 709v1M458.5 708v1M459.5 708v1M460.5 707v1M461.5 706v1M462.5 705v1M463.5 705v1M464.5 704v1M465.5 703v1M466.5 702v1M467.5 702v1M468.5 701v1M469.5 700v1M470.5 700v1M471.5 701v1M472.5 701v1M473.5 701v1M474.5 702v1M475.5 702v1M476.5 703v1M477.5 703v1M478.5 703v1M479.5 703v1M480.5 703v1M481.5 703v1M482.5 702v1M483.5 702v1M484.5 702v1M485.5 702v1M486.5 701v1M487.5 701v1M488.5 700v1M489.5 699v1M490.5 698v1M491.5 698v1M492.5 697v1M493.5 696v1M494.5 696v1M495.5 696v1M496.5 696v1M497.5 696v1M498.5 696v1M499.5 696v1M500.5 696v1M501.5 696v1M502.5 696v1M503.5 696v1M504.5 697v1M505.5 697v1M506.5 697v1M507.5 697v1M508.5 698v1M509.5 698v1M510.5 698v1M511.5 699v1M512.5 699v1M513.5 700v1M514.5 700v1M515.5 701v1M516.5 701v1M517.5 702v1M518.5 702v1M519.5 702v1M520.5 702v1M521.5 702v1M522.5 702v1M523.5 702v1M524.5 702v1M525.5 702v1M526.5 702v1M527.5 702v1M528.5 702v1M529.5 702v1M530.5 701v1M531.5 701v1M532.5 701v1M533.5 701v1M534.5 701v1M535.5 701v1M536.5 702v1M537.5 702v1M538.5 702v1M539.5 702v1M540.5 703v1M541.5 703v1M542.5 704v1M543.5 705v1M544.5 706v1M545.5 707v2M546.5 709v1M547.5 710v1M548.5 711v1M549.5 712v1M550.5 712v1M551.5 711v1M552.5 711v1M553.5 710v1M554.5 710v1M555.5 709v1M556.5 709v1M557.5 708v1M558.5 709v1M559.5 710v1M560.5 711v1M561.5 712v1M562.5 713v1M563.5 714v1M564.5 715v1M565.5 716v1M566.5 717v1M567.5 717v1M568.5 718v1M569.5 718v1M570.5 719v1M571.5 720v1M572.5 720v1M573.5 721v1M574.5 721v1M575.5 720v1M576.5 720v1M577.5 720v1M578.5 719v1M579.5 719v1M580.5 718v1M581.5 718v1M582.5 717v1M583.5 717v1M584.5 716v1M585.5 716v1M586.5 715v1M587.5 714v1M588.5 714v1M589.5 713v1M590.5 713v1M591.5 713v1M592.5 713v1M593.5 713v1M594.5 712v1M595.5 712v1M596.5 712v1M597.5 712v2M598.5 714v2M599.5 716v2M600.5 718v2M601.5 720v2M602.5 722v2M603.5 724v2M604.5 726v2M605.5 728v2M606.5 730v1M607.5 731v2M608.5 733v1M609.5 734v1M610.5 735v1M611.5 736v2M612.5 738v1M613.5 739v1M614.5 739v1M615.5 740v1M616.5 740v1M617.5 741v1M618.5 741v1M619.5 742v1M620.5 742v1M621.5 743v1M622.5 744v2M623.5 746v1M624.5 747v1M625.5 748v2M626.5 750v1M627.5 751v1M628.5 752v2M629.5 754v1M630.5 753v1M631.5 751v2M632.5 750v1M633.5 749v1M634.5 748v1M635.5 746v2M636.5 745v1M637.5 744v1M638.5 744v1M639.5 744v1M640.5 744v1M641.5 744v1M642.5 745v1M643.5 745v1M644.5 745v1M645.5 745v1M646.5 744v1M647.5 744v1M648.5 743v1M649.5 743v1M650.5 742v1M651.5 741v1M652.5 741v1M653.5 740v1M654.5 740v1M655.5 740v1M656.5 739v1M657.5 739v1M658.5 739v1M659.5 739v1M660.5 738v1M661.5 738v1M662.5 738v1M663.5 738v1M664.5 738v1M665.5 738v1M666.5 739v1M667.5 739v1M668.5 739v1M669.5 739v1M670.5 740v1M671.5 740v1M672.5 741v1M673.5 741v1M674.5 742v1M675.5 743v1M676.5 743v1M677.5 744v1M678.5 743v1M679.5 742v1M680.5 741v1M681.5 741v1M682.5 740v1M683.5 739v1M684.5 738v1M685.5 737v1M686.5 737v1M687.5 738v1M688.5 738v1M689.5 739v1M690.5 739v1M691.5 740v1M692.5 740v1M693.5 741v1M694.5 742v2M695.5 744v1M696.5 745v2M697.5 747v1M698.5 748v2M699.5 750v1M700.5 751v2M701.5 753v1M702.5 753v1M703.5 754v1M704.5 754v1M705.5 754v1M706.5 755v1M707.5 755v1M708.5 756v1M709.5 756v1M710.5 756v1M711.5 756v1M712.5 755v1M713.5 755v1M714.5 755v1M715.5 755v1M716.5 754v1M717.5 754v1M718.5 753v1M719.5 753v1M720.5 752v1M721.5 752v1M722.5 751v1M723.5 750v1M724.5 750v1M725.5 749v1M726.5 748v1M727.5 747v1M728.5 746v1M729.5 744v2M730.5 743v1M731.5 742v1M732.5 741v1M733.5 740v1M734.5 740v1M735.5 739v1M736.5 739v1M737.5 739v1M738.5 738v1M739.5 738v1M740.5 737v1M741.5 737v1M742.5 737v1M743.5 738v1M744.5 738v1M745.5 738v1M746.5 739v1M747.5 739v1M748.5 740v1M749.5 740v1M750.5 741v2M751.5 743v1M752.5 744v2M753.5 746v1M754.5 747v2M755.5 749v1M756.5 750v2M757.5 752v1M758.5 752v1M759.5 752v1M760.5 752v1M761.5 752v1M762.5 753v1M763.5 753v1M764.5 753v1M765.5 753v1M766.5 754v1M767.5 755v1M768.5 756v1M769.5 757v2M770.5 759v1M771.5 760v1M772.5 761v1M773.5 762v1M774.5 762v1M775.5 762v1M776.5 762v1M777.5 762v1M778.5 763v1M779.5 763v1M780.5 763v1M781.5 763v1M782.5 762v1M783.5 762v1M784.5 761v1M785.5 761v1M786.5 760v1M787.5 759v1M788.5 759v1M789.5 758v1M790.5 758v1M791.5 759v1M792.5 759v1M793.5 760v1M794.5 760v1M795.5 761v1M796.5 761v1M797.5 762v1M798.5 763v1M799.5 763v1M800.5 764v1M801.5 764v1M802.5 765v1M803.5 766v1M804.5 766v1M805.5 767v1M806.5 766v1M807.5 765v1M808.5 764v1M809.5 762v2M810.5 761v1M811.5 760v1M812.5 759v1M813.5 758v1M814.5 758v1M815.5 758v1M816.5 758v1M817.5 758v1M818.5 759v1M819.5 759v1M820.5 759v1M821.5 759v1M822.5 758v1M823.5 757v1M824.5 756v1M825.5 755v1M826.5 754v1M827.5 753v1M828.5 752v1M829.5 751v1M830.5 750v1M831.5 750v1M832.5 749v1M833.5 748v1M834.5 747v1M835.5 747v1M836.5 746v1M837.5 745v1M838.5 745v1M839.5 745v1M840.5 746v1M841.5 746v1M842.5 746v1M843.5 746v1M844.5 747v1M845.5 747v1M846.5 745v2M847.5 744v1M848.5 743v1M849.5 741v2M850.5 740v1M851.5 739v1M852.5 737v2M853.5 736v1M854.5 736v1M855.5 736v1M856.5 736v1M857.5 736v1M858.5 736v1M859.5 736v1M860.5 736v1M861.5 736v1M862.5 736v1M863.5 736v1M864.5 736v1M865.5 736v1M866.5 737v1M867.5 737v1M868.5 737v1M869.5 737v1M870.5 737v1M871.5 736v1M872.5 736v1M873.5 735v1M874.5 735v1M875.5 734v1M876.5 734v1M877.5 733v1M878.5 734v2M879.5 736v2M880.5 738v2M881.5 740v1M882.5 741v2M883.5 743v2M884.5 745v2M885.5 747v1M886.5 748v2M887.5 750v2M888.5 752v1M889.5 753v2M890.5 755v1M891.5 756v2M892.5 758v2M893.5 760v1M894.5 760v1M895.5 761v1M896.5 761v1M897.5 761v1M898.5 762v1M899.5 762v1M900.5 763v1M901.5 763v1M902.5 763v1M903.5 763v1M904.5 764v1M905.5 764v1M906.5 764v1M907.5 764v1M908.5 765v1M909.5 765v1M910.5 765v1M911.5 765v1M912.5 766v1M913.5 766v1M914.5 766v1M915.5 766v1M916.5 767v1M917.5 767v1M918.5 766v1M919.5 766v1M920.5 765v1M921.5 765v1M922.5 764v1M923.5 763v1M924.5 763v1M925.5 762v1M926.5 761v1M927.5 761v1M928.5 760v1M929.5 759v1M930.5 758v1M931.5 758v1M932.5 757v1M933.5 756v1M934.5 756v1M935.5 756v1M936.5 756v1M937.5 756v1M938.5 757v1M939.5 757v1M940.5 757v1M941.5 757v1M942.5 757v1M943.5 757v1M944.5 757v1M945.5 757v1M946.5 758v1M947.5 758v1M948.5 758v1M949.5 758v1M950.5 757v1M951.5 756v1M952.5 755v1M953.5 753v2M954.5 752v1M955.5 751v1M956.5 750v1M957.5 749v1M958.5 747v2M959.5 746v1M960.5 744v2M961.5 743v1M962.5 741v2M963.5 740v1M964.5 738v2M965.5 737v1M966.5 737v1M967.5 737v1M968.5 738v1M969.5 738v1M970.5 738v1M971.5 738v1M972.5 739v1M973.5 739v1M974.5 739v1M975.5 739v1M976.5 739v1M977.5 739v1M978.5 739v1M979.5 739v1M980.5 739v1M981.5 739v1M982.5 739v1M983.5 739v1M984.5 739v1M985.5 739v1M986.5 740v1M987.5 740v1M988.5 740v1M989.5 740v1M990.5 738v2M991.5 737v1M992.5 736v1M993.5 734v2M994.5 733v1M995.5 732v1M996.5 730v2M997.5 729v1M998.5 729v1M999.5 729v1M1000.5 729v1M1001.5 729v1M1002.5 730v1M1003.5 730v1M1004.5 730v1M1005.5 730v1M1006.5 730v1M1007.5 729v1M1008.5 729v1M1009.5 728v1M1010.5 728v1M1011.5 727v1M1012.5 727v1M1013.5 726v1M1014.5 726v1M1015.5 726v1M1016.5 726v1M1017.5 726v1M1018.5 727v1M1019.5 727v1M1020.5 727v1M1021.5 727v1M1022.5 728v1M1023.5 729v2M1024.5 731v1M1025.5 732v1M1026.5 733v1M1027.5 734v2M1028.5 736v1M1029.5 737v1M1030.5 737v1M1031.5 736v1M1032.5 736v1M1033.5 735v1M1034.5 735v1M1035.5 734v1M1036.5 734v1M1037.5 733v1M1038.5 734v1M1039.5 735v1M1040.5 736v1M1041.5 737v2M1042.5 739v1M1043.5 740v1M1044.5 741v1M1045.5 742v1M1046.5 742v1M1047.5 742v1M1048.5 742v1M1049.5 742v1M1050.5 742v1M1051.5 742v1M1052.5 742v1M1053.5 742v1M1054.5 742v1M1055.5 742v1M1056.5 742v1M1057.5 742v1M1058.5 742v1M1059.5 742v1M1060.5 742v1M1061.5 742v1M1062.5 741v1M1063.5 740v1M1064.5 739v1M1065.5 739v1M1066.5 738v1M1067.5 737v1M1068.5 736v1M1069.5 735v1M1070.5 735v1M1071.5 735v1M1072.5 736v1M1073.5 736v1M1074.5 736v1M1075.5 736v1M1076.5 737v1M1077.5 737v1M1078.5 738v1M1079.5 739v1M1080.5 740v1M1081.5 740v1M1082.5 741v1M1083.5 742v1M1084.5 743v1M1085.5 744v1M1086.5 744v1M1087.5 744v1M1088.5 744v1M1089.5 744v1M1090.5 744v1M1091.5 744v1M1092.5 744v1M1093.5 744v1M1094.5 744v1M1095.5 744v1M1096.5 744v1M1097.5 744v1M1098.5 743v1M1099.5 743v1M1100.5 743v1M1101.5 743v1M1102.5 743v1M1103.5 743v1M1104.5 743v1M1105.5 743v1M1106.5 744v1M1107.5 744v1M1108.5 744v1M1109.5 744v1M1110.5 744v1M1111.5 744v1M1112.5 743v1M1113.5 743v1M1114.5 743v1M1115.5 743v1M1116.5 742v1M1117.5 742v1" stroke="#1e90ff" stroke-width="1" fill="none"/>
<text x="8.6" y="683" font-size="10" fill="#000" textLength="68.5" lengthAdjust="spacingAndGlyphs">RSI(14) 44.5935</text>
<text x="1423.4" y="681" font-size="10" fill="#000" textLength="16" lengthAdjust="spacingAndGlyphs">100</text>
<text x="1423" y="714" font-size="10" fill="#000" textLength="10.5" lengthAdjust="spacingAndGlyphs">70</text>
<text x="1423" y="765" font-size="10" fill="#000" textLength="10.5" lengthAdjust="spacingAndGlyphs">30</text>
<text x="1423.7" y="797" font-size="10" fill="#000" textLength="5.6" lengthAdjust="spacingAndGlyphs">0</text>
<rect x="5" y="801" width="1" height="3" fill="#000"/>
<text x="4" y="813" font-size="10" fill="#000" textLength="52.6" lengthAdjust="spacingAndGlyphs">10 Feb 2019</text>
<rect x="69" y="801" width="1" height="3" fill="#000"/>
<text x="68" y="813" font-size="10" fill="#000" textLength="52.6" lengthAdjust="spacingAndGlyphs">19 Feb 2019</text>
<rect x="133" y="801" width="1" height="3" fill="#000"/>
<text x="132" y="813" font-size="10" fill="#000" textLength="52.6" lengthAdjust="spacingAndGlyphs">28 Feb 2019</text>
<rect x="197" y="801" width="1" height="3" fill="#000"/>
<text x="196" y="813" font-size="10" fill="#000" textLength="52.6" lengthAdjust="spacingAndGlyphs">10 Mar 2019</text>
<rect x="261" y="801" width="1" height="3" fill="#000"/>
<text x="260" y="813" font-size="10" fill="#000" textLength="52.6" lengthAdjust="spacingAndGlyphs">19 Mar 2019</text>
<rect x="325" y="801" width="1" height="3" fill="#000"/>
<text x="324" y="813" font-size="10" fill="#000" textLength="52.6" lengthAdjust="spacingAndGlyphs">28 Mar 2019</text>
<rect x="389" y="801" width="1" height="3" fill="#000"/>
<text x="388" y="813" font-size="10" fill="#000" textLength="45.3" lengthAdjust="spacingAndGlyphs">7 Apr 2019</text>
<rect x="453" y="801" width="1" height="3" fill="#000"/>
<text x="452" y="813" font-size="10" fill="#000" textLength="50.5" lengthAdjust="spacingAndGlyphs">16 Apr 2019</text>
<rect x="517" y="801" width="1" height="3" fill="#000"/>
<text x="516" y="813" font-size="10" fill="#000" textLength="50.5" lengthAdjust="spacingAndGlyphs">26 Apr 2019</text>
<rect x="581" y="801" width="1" height="3" fill="#000"/>
<text x="580" y="813" font-size="10" fill="#000" textLength="48.9" lengthAdjust="spacingAndGlyphs">6 May 2019</text>
<rect x="645" y="801" width="1" height="3" fill="#000"/>
<text x="644" y="813" font-size="10" fill="#000" textLength="54.1" lengthAdjust="spacingAndGlyphs">15 May 2019</text>
<rect x="709" y="801" width="1" height="3" fill="#000"/>
<text x="708" y="813" font-size="10" fill="#000" textLength="54.1" lengthAdjust="spacingAndGlyphs">24 May 2019</text>
<rect x="773" y="801" width="1" height="3" fill="#000"/>
<text x="772" y="813" font-size="10" fill="#000" textLength="46.3" lengthAdjust="spacingAndGlyphs">3 Jun 2019</text>
<rect x="837" y="801" width="1" height="3" fill="#000"/>
<text x="836" y="813" font-size="10" fill="#000" textLength="51.5" lengthAdjust="spacingAndGlyphs">12 Jun 2019</text>
<rect x="901" y="801" width="1" height="3" fill="#000"/>
<text x="900" y="813" font-size="10" fill="#000" textLength="51.5" lengthAdjust="spacingAndGlyphs">21 Jun 2019</text>
<rect x="965" y="801" width="1" height="3" fill="#000"/>
<text x="964" y="813" font-size="10" fill="#000" textLength="43.2" lengthAdjust="spacingAndGlyphs">1 Jul 2019</text>
<rect x="1029" y="801" width="1" height="3" fill="#000"/>
<text x="1028" y="813" font-size="10" fill="#000" textLength="48.4" lengthAdjust="spacingAndGlyphs">10 Jul 2019</text>
<rect x="1093" y="801" width="1" height="3" fill="#000"/>
<text x="1092" y="813" font-size="10" fill="#000" textLength="48.4" lengthAdjust="spacingAndGlyphs">19 Jul 2019</text>
<rect x="0" y="821" width="1465" height="1" fill="#e4e4e4"/>
<rect x="0" y="823" width="1465" height="1" fill="#000"/>
<rect x="0" y="824" width="1465" height="18" fill="#f0f0f0"/>
<rect x="0" y="823" width="2" height="19" fill="#6e6e6e"/>
<rect x="222" y="822" width="108" height="20" fill="#fff"/>
<rect x="222" y="823" width="1" height="19" fill="#000"/>
<rect x="329" y="823" width="1" height="19" fill="#000"/>
<rect x="222" y="841" width="108" height="1" fill="#000"/>
<text x="17" y="838" font-size="13" fill="#6a6a6a" textLength="85.2" lengthAdjust="spacingAndGlyphs">EURUSD-,Daily</text>
<text x="124.6" y="838" font-size="13" fill="#6a6a6a" textLength="86.9" lengthAdjust="spacingAndGlyphs">AUDUSD-,Daily</text>
<text x="341.3" y="838" font-size="13" fill="#6a6a6a" textLength="85.8" lengthAdjust="spacingAndGlyphs">USDCAD-,Daily</text>
<text x="450.5" y="838" font-size="13" fill="#6a6a6a" textLength="88.2" lengthAdjust="spacingAndGlyphs">USDCNH-,Daily</text>
<text x="561.4" y="838" font-size="13" fill="#6a6a6a" textLength="97.1" lengthAdjust="spacingAndGlyphs">EURCHF-,Weekly</text>
<text x="682.6" y="838" font-size="13" fill="#6a6a6a" textLength="83.4" lengthAdjust="spacingAndGlyphs">XAUUSD-,M15</text>
<text x="789.4" y="838" font-size="13" fill="#6a6a6a" textLength="72.1" lengthAdjust="spacingAndGlyphs">GBPUSD-,H1</text>
<text x="885.7" y="838" font-size="13" fill="#6a6a6a" textLength="56.1" lengthAdjust="spacingAndGlyphs">UKOil-,H1</text>
<text x="234.3" y="838" font-size="13" fill="#000" textLength="84" lengthAdjust="spacingAndGlyphs">USDCHF-,Daily</text>
<rect x="114" y="826" width="1" height="14" fill="#808080"/>
<rect x="438" y="826" width="1" height="14" fill="#808080"/>
<rect x="550" y="826" width="1" height="14" fill="#808080"/>
<rect x="670" y="826" width="1" height="14" fill="#808080"/>
<rect x="778" y="826" width="1" height="14" fill="#808080"/>
<rect x="874" y="826" width="1" height="14" fill="#808080"/>
<rect x="955" y="826" width="1" height="14" fill="#808080"/>
<polygon points="1439.3,828.6 1439.3,835.4 1435.8,832" fill="#9b9b9b" shape-rendering="auto"/>
<polygon points="1454.9,828.6 1454.9,835.4 1458.4,832" fill="#9b9b9b" shape-rendering="auto"/>
</svg>
</body></html>
